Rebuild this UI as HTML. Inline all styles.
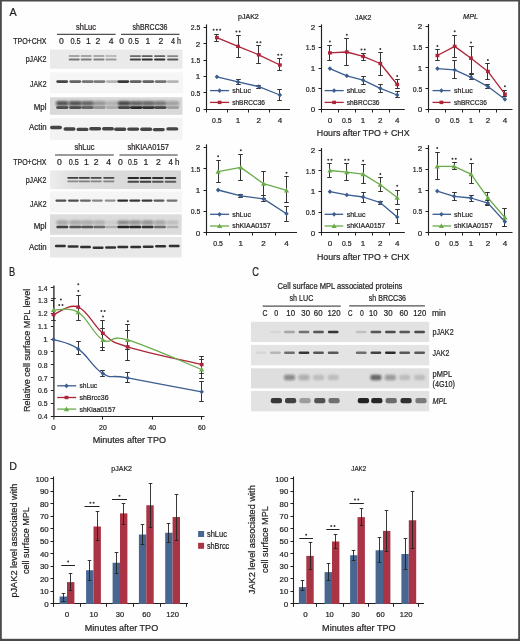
<!DOCTYPE html>
<html><head><meta charset="utf-8"><style>
html,body{margin:0;padding:0;background:#fff;}
body{width:520px;height:641px;overflow:hidden;}
svg{display:block;font-family:"Liberation Sans", sans-serif;will-change:transform;}
text{fill:#231f20;stroke:#231f20;stroke-width:0.22px;}
</style></head><body>
<svg width="520" height="641" viewBox="0 0 520 641">
<defs>
<filter id="b1" x="-30%" y="-200%" width="160%" height="500%"><feGaussianBlur stdDeviation="0.6"/></filter>
<filter id="b2" x="-30%" y="-100%" width="160%" height="300%"><feGaussianBlur stdDeviation="1.1"/></filter>
<linearGradient id="g0" x1="0" y1="0" x2="1" y2="0"><stop offset="0" stop-color="#ededed"/><stop offset="0.09" stop-color="#e6e6e6"/><stop offset="0.2" stop-color="#dfdfdf"/><stop offset="0.6" stop-color="#dadada"/><stop offset="1" stop-color="#d7d7d7"/></linearGradient>
</defs>
<rect width="520" height="641" fill="#fefefe"/>
<text x="9.60" y="15.50" font-size="11.6" textLength="7.20" lengthAdjust="spacingAndGlyphs">A</text>
<text x="86.00" y="29.50" font-size="8.6" text-anchor="middle" textLength="20.00" lengthAdjust="spacingAndGlyphs">shLuc</text>
<text x="150.00" y="29.50" font-size="8.6" text-anchor="middle" textLength="35.00" lengthAdjust="spacingAndGlyphs">shBRCC36</text>
<line x1="56.90" y1="34.30" x2="115.60" y2="34.30" stroke="#505050" stroke-width="1.3"/>
<line x1="121.00" y1="34.30" x2="179.50" y2="34.30" stroke="#505050" stroke-width="1.3"/>
<text x="13.20" y="44.10" font-size="8.3" textLength="33.30" lengthAdjust="spacingAndGlyphs">TPO+CHX</text>
<text x="61.40" y="44.10" font-size="8.6" text-anchor="middle">0</text>
<text x="75.50" y="44.10" font-size="8.6" text-anchor="middle" textLength="10.20" lengthAdjust="spacingAndGlyphs">0.5</text>
<text x="88.50" y="44.10" font-size="8.6" text-anchor="middle">1</text>
<text x="98.00" y="44.10" font-size="8.6" text-anchor="middle">2</text>
<text x="111.10" y="44.10" font-size="8.6" text-anchor="middle">4</text>
<text x="121.60" y="44.10" font-size="8.6" text-anchor="middle">0</text>
<text x="133.60" y="44.10" font-size="8.6" text-anchor="middle" textLength="10.50" lengthAdjust="spacingAndGlyphs">0.5</text>
<text x="148.00" y="44.10" font-size="8.6" text-anchor="middle">1</text>
<text x="160.80" y="44.10" font-size="8.6" text-anchor="middle">2</text>
<text x="176.00" y="44.10" font-size="8.6" text-anchor="middle" textLength="10.00" lengthAdjust="spacingAndGlyphs">4 h</text>
<text x="46.50" y="61.60" font-size="8.3" text-anchor="end" textLength="20.80" lengthAdjust="spacingAndGlyphs">pJAK2</text>
<text x="46.50" y="86.50" font-size="8.3" text-anchor="end" textLength="16.40" lengthAdjust="spacingAndGlyphs">JAK2</text>
<text x="46.50" y="110.20" font-size="8.3" text-anchor="end" textLength="12.80" lengthAdjust="spacingAndGlyphs">Mpl</text>
<text x="46.50" y="129.80" font-size="8.3" text-anchor="end" textLength="17.40" lengthAdjust="spacingAndGlyphs">Actin</text>
<rect x="50" y="49.6" width="132.5" height="19.1" fill="#eaeaea"/>
<rect x="68.70" y="55.35" width="11.00" height="1.50" rx="0.75" fill="#1a1a1a" fill-opacity="0.45" filter="url(#b1)"/>
<rect x="80.70" y="55.35" width="11.00" height="1.50" rx="0.75" fill="#1a1a1a" fill-opacity="0.45" filter="url(#b1)"/>
<rect x="93.40" y="55.35" width="11.00" height="1.50" rx="0.75" fill="#1a1a1a" fill-opacity="0.42" filter="url(#b1)"/>
<rect x="105.50" y="55.35" width="11.00" height="1.50" rx="0.75" fill="#1a1a1a" fill-opacity="0.30" filter="url(#b1)"/>
<rect x="68.70" y="58.60" width="11.00" height="1.80" rx="0.90" fill="#1a1a1a" fill-opacity="0.55" filter="url(#b1)"/>
<rect x="80.70" y="58.60" width="11.00" height="1.80" rx="0.90" fill="#1a1a1a" fill-opacity="0.52" filter="url(#b1)"/>
<rect x="93.40" y="58.60" width="11.00" height="1.80" rx="0.90" fill="#1a1a1a" fill-opacity="0.50" filter="url(#b1)"/>
<rect x="105.50" y="58.60" width="11.00" height="1.80" rx="0.90" fill="#1a1a1a" fill-opacity="0.38" filter="url(#b1)"/>
<rect x="129.80" y="55.20" width="11.20" height="1.80" rx="0.90" fill="#1a1a1a" fill-opacity="0.62" filter="url(#b1)"/>
<rect x="141.60" y="55.20" width="11.20" height="1.80" rx="0.90" fill="#1a1a1a" fill-opacity="0.68" filter="url(#b1)"/>
<rect x="154.10" y="55.20" width="11.20" height="1.80" rx="0.90" fill="#1a1a1a" fill-opacity="0.65" filter="url(#b1)"/>
<rect x="167.10" y="55.20" width="11.20" height="1.80" rx="0.90" fill="#1a1a1a" fill-opacity="0.48" filter="url(#b1)"/>
<rect x="129.80" y="58.60" width="11.20" height="2.00" rx="1.00" fill="#1a1a1a" fill-opacity="0.80" filter="url(#b1)"/>
<rect x="141.60" y="58.60" width="11.20" height="2.00" rx="1.00" fill="#1a1a1a" fill-opacity="0.90" filter="url(#b1)"/>
<rect x="154.10" y="58.60" width="11.20" height="2.00" rx="1.00" fill="#1a1a1a" fill-opacity="0.90" filter="url(#b1)"/>
<rect x="167.10" y="58.60" width="11.20" height="2.00" rx="1.00" fill="#1a1a1a" fill-opacity="0.70" filter="url(#b1)"/>
<rect x="50" y="72.4" width="133" height="20.8" fill="#f6f6f6"/>
<rect x="56.30" y="80.20" width="11.80" height="2.80" rx="1.40" fill="#1a1a1a" fill-opacity="0.80" filter="url(#b1)"/>
<rect x="69.40" y="80.20" width="11.80" height="2.80" rx="1.40" fill="#1a1a1a" fill-opacity="0.68" filter="url(#b1)"/>
<rect x="81.80" y="80.20" width="11.80" height="2.80" rx="1.40" fill="#1a1a1a" fill-opacity="0.60" filter="url(#b1)"/>
<rect x="93.60" y="80.20" width="11.80" height="2.80" rx="1.40" fill="#1a1a1a" fill-opacity="0.55" filter="url(#b1)"/>
<rect x="106.10" y="80.20" width="11.80" height="2.80" rx="1.40" fill="#1a1a1a" fill-opacity="0.30" filter="url(#b1)"/>
<rect x="117.40" y="80.20" width="11.80" height="2.80" rx="1.40" fill="#1a1a1a" fill-opacity="0.85" filter="url(#b1)"/>
<rect x="129.80" y="80.20" width="11.80" height="2.80" rx="1.40" fill="#1a1a1a" fill-opacity="0.68" filter="url(#b1)"/>
<rect x="142.40" y="80.20" width="11.80" height="2.80" rx="1.40" fill="#1a1a1a" fill-opacity="0.68" filter="url(#b1)"/>
<rect x="154.80" y="80.20" width="11.80" height="2.80" rx="1.40" fill="#1a1a1a" fill-opacity="0.60" filter="url(#b1)"/>
<rect x="166.90" y="80.20" width="11.80" height="2.80" rx="1.40" fill="#1a1a1a" fill-opacity="0.30" filter="url(#b1)"/>
<rect x="50" y="97.2" width="132.5" height="17.6" fill="#d9d9d9"/>
<rect x="56.00" y="101.10" width="12.60" height="4.60" rx="2.00" fill="#1a1a1a" fill-opacity="0.70" filter="url(#b2)"/>
<rect x="68.90" y="101.10" width="12.60" height="4.60" rx="2.00" fill="#1a1a1a" fill-opacity="0.70" filter="url(#b2)"/>
<rect x="81.10" y="101.10" width="12.60" height="4.60" rx="2.00" fill="#1a1a1a" fill-opacity="0.62" filter="url(#b2)"/>
<rect x="93.20" y="101.10" width="12.60" height="4.60" rx="2.00" fill="#1a1a1a" fill-opacity="0.35" filter="url(#b2)"/>
<rect x="105.90" y="101.10" width="12.60" height="4.60" rx="2.00" fill="#1a1a1a" fill-opacity="0.22" filter="url(#b2)"/>
<rect x="117.80" y="101.10" width="12.60" height="4.60" rx="2.00" fill="#1a1a1a" fill-opacity="0.75" filter="url(#b2)"/>
<rect x="129.90" y="101.10" width="12.60" height="4.60" rx="2.00" fill="#1a1a1a" fill-opacity="0.62" filter="url(#b2)"/>
<rect x="142.00" y="101.10" width="12.60" height="4.60" rx="2.00" fill="#1a1a1a" fill-opacity="0.60" filter="url(#b2)"/>
<rect x="154.10" y="101.10" width="12.60" height="4.60" rx="2.00" fill="#1a1a1a" fill-opacity="0.50" filter="url(#b2)"/>
<rect x="166.70" y="101.10" width="12.60" height="4.60" rx="2.00" fill="#1a1a1a" fill-opacity="0.30" filter="url(#b2)"/>
<rect x="56.10" y="106.20" width="12.40" height="2.80" rx="1.40" fill="#1a1a1a" fill-opacity="0.72" filter="url(#b1)"/>
<rect x="69.00" y="106.20" width="12.40" height="2.80" rx="1.40" fill="#1a1a1a" fill-opacity="0.72" filter="url(#b1)"/>
<rect x="81.20" y="106.20" width="12.40" height="2.80" rx="1.40" fill="#1a1a1a" fill-opacity="0.62" filter="url(#b1)"/>
<rect x="93.30" y="106.20" width="12.40" height="2.80" rx="1.40" fill="#1a1a1a" fill-opacity="0.35" filter="url(#b1)"/>
<rect x="106.00" y="106.20" width="12.40" height="2.80" rx="1.40" fill="#1a1a1a" fill-opacity="0.20" filter="url(#b1)"/>
<rect x="117.90" y="106.20" width="12.40" height="2.80" rx="1.40" fill="#1a1a1a" fill-opacity="0.75" filter="url(#b1)"/>
<rect x="130.00" y="106.20" width="12.40" height="2.80" rx="1.40" fill="#1a1a1a" fill-opacity="0.90" filter="url(#b1)"/>
<rect x="142.10" y="106.20" width="12.40" height="2.80" rx="1.40" fill="#1a1a1a" fill-opacity="0.85" filter="url(#b1)"/>
<rect x="154.20" y="106.20" width="12.40" height="2.80" rx="1.40" fill="#1a1a1a" fill-opacity="0.75" filter="url(#b1)"/>
<rect x="166.80" y="106.20" width="12.40" height="2.80" rx="1.40" fill="#1a1a1a" fill-opacity="0.30" filter="url(#b1)"/>
<rect x="50" y="118.2" width="132.6" height="21.6" fill="#f3f3f3"/>
<rect x="50.00" y="125.80" width="12.00" height="3.40" rx="1.70" fill="#1a1a1a" fill-opacity="0.80" filter="url(#b1)"/>
<rect x="63.50" y="127.30" width="12.00" height="3.40" rx="1.70" fill="#1a1a1a" fill-opacity="0.80" filter="url(#b1)"/>
<rect x="76.50" y="127.70" width="12.00" height="3.40" rx="1.70" fill="#1a1a1a" fill-opacity="0.80" filter="url(#b1)"/>
<rect x="89.20" y="127.10" width="12.00" height="3.40" rx="1.70" fill="#1a1a1a" fill-opacity="0.80" filter="url(#b1)"/>
<rect x="102.00" y="127.10" width="12.00" height="3.40" rx="1.70" fill="#1a1a1a" fill-opacity="0.80" filter="url(#b1)"/>
<rect x="114.20" y="127.50" width="12.00" height="3.40" rx="1.70" fill="#1a1a1a" fill-opacity="0.80" filter="url(#b1)"/>
<rect x="127.20" y="127.40" width="12.00" height="3.40" rx="1.70" fill="#1a1a1a" fill-opacity="0.80" filter="url(#b1)"/>
<rect x="140.20" y="127.60" width="12.00" height="3.40" rx="1.70" fill="#1a1a1a" fill-opacity="0.80" filter="url(#b1)"/>
<rect x="152.80" y="127.90" width="12.00" height="3.40" rx="1.70" fill="#1a1a1a" fill-opacity="0.80" filter="url(#b1)"/>
<rect x="166.30" y="127.20" width="12.00" height="3.40" rx="1.70" fill="#1a1a1a" fill-opacity="0.80" filter="url(#b1)"/>
<text x="84.40" y="150.10" font-size="8.6" text-anchor="middle" textLength="20.00" lengthAdjust="spacingAndGlyphs">shLuc</text>
<text x="148.20" y="150.10" font-size="8.6" text-anchor="middle" textLength="41.50" lengthAdjust="spacingAndGlyphs">shKIAA0157</text>
<line x1="55.00" y1="155.00" x2="113.80" y2="155.00" stroke="#7a7a7a" stroke-width="1.6"/>
<line x1="119.50" y1="155.00" x2="177.70" y2="155.00" stroke="#7a7a7a" stroke-width="1.6"/>
<text x="13.20" y="164.70" font-size="8.3" textLength="33.30" lengthAdjust="spacingAndGlyphs">TPO+CHX</text>
<text x="59.50" y="164.70" font-size="8.6" text-anchor="middle">0</text>
<text x="73.80" y="164.70" font-size="8.6" text-anchor="middle" textLength="10.00" lengthAdjust="spacingAndGlyphs">0.5</text>
<text x="86.40" y="164.70" font-size="8.6" text-anchor="middle">1</text>
<text x="96.20" y="164.70" font-size="8.6" text-anchor="middle">2</text>
<text x="108.70" y="164.70" font-size="8.6" text-anchor="middle">4</text>
<text x="120.40" y="164.70" font-size="8.6" text-anchor="middle">0</text>
<text x="132.90" y="164.70" font-size="8.6" text-anchor="middle" textLength="9.60" lengthAdjust="spacingAndGlyphs">0.5</text>
<text x="146.00" y="164.70" font-size="8.6" text-anchor="middle">1</text>
<text x="158.50" y="164.70" font-size="8.6" text-anchor="middle">2</text>
<text x="174.00" y="164.70" font-size="8.6" text-anchor="middle" textLength="10.90" lengthAdjust="spacingAndGlyphs">4 h</text>
<text x="46.50" y="182.50" font-size="8.3" text-anchor="end" textLength="20.80" lengthAdjust="spacingAndGlyphs">pJAK2</text>
<text x="46.50" y="206.80" font-size="8.3" text-anchor="end" textLength="16.40" lengthAdjust="spacingAndGlyphs">JAK2</text>
<text x="46.50" y="229.40" font-size="8.3" text-anchor="end" textLength="12.80" lengthAdjust="spacingAndGlyphs">Mpl</text>
<text x="46.50" y="250.00" font-size="8.3" text-anchor="end" textLength="17.40" lengthAdjust="spacingAndGlyphs">Actin</text>
<rect x="50" y="170.4" width="131" height="18.7" fill="url(#g0)"/>
<rect x="67.30" y="176.90" width="11.20" height="1.80" rx="0.90" fill="#1a1a1a" fill-opacity="0.80" filter="url(#b1)"/>
<rect x="78.80" y="176.90" width="11.20" height="1.80" rx="0.90" fill="#1a1a1a" fill-opacity="0.82" filter="url(#b1)"/>
<rect x="90.50" y="176.90" width="11.20" height="1.80" rx="0.90" fill="#1a1a1a" fill-opacity="0.75" filter="url(#b1)"/>
<rect x="103.20" y="176.90" width="11.20" height="1.80" rx="0.90" fill="#1a1a1a" fill-opacity="0.75" filter="url(#b1)"/>
<rect x="67.30" y="180.45" width="11.20" height="1.70" rx="0.85" fill="#1a1a1a" fill-opacity="0.42" filter="url(#b1)"/>
<rect x="78.80" y="180.45" width="11.20" height="1.70" rx="0.85" fill="#1a1a1a" fill-opacity="0.48" filter="url(#b1)"/>
<rect x="90.50" y="180.45" width="11.20" height="1.70" rx="0.85" fill="#1a1a1a" fill-opacity="0.45" filter="url(#b1)"/>
<rect x="103.20" y="180.45" width="11.20" height="1.70" rx="0.85" fill="#1a1a1a" fill-opacity="0.45" filter="url(#b1)"/>
<rect x="127.50" y="176.95" width="11.60" height="2.10" rx="1.05" fill="#1a1a1a" fill-opacity="0.92" filter="url(#b1)"/>
<rect x="139.70" y="176.95" width="11.60" height="2.10" rx="1.05" fill="#1a1a1a" fill-opacity="0.95" filter="url(#b1)"/>
<rect x="152.00" y="176.95" width="11.60" height="2.10" rx="1.05" fill="#1a1a1a" fill-opacity="0.88" filter="url(#b1)"/>
<rect x="164.70" y="176.95" width="11.60" height="2.10" rx="1.05" fill="#1a1a1a" fill-opacity="0.85" filter="url(#b1)"/>
<rect x="127.50" y="180.70" width="11.60" height="2.00" rx="1.00" fill="#1a1a1a" fill-opacity="0.75" filter="url(#b1)"/>
<rect x="139.70" y="180.70" width="11.60" height="2.00" rx="1.00" fill="#1a1a1a" fill-opacity="0.80" filter="url(#b1)"/>
<rect x="152.00" y="180.70" width="11.60" height="2.00" rx="1.00" fill="#1a1a1a" fill-opacity="0.70" filter="url(#b1)"/>
<rect x="164.70" y="180.70" width="11.60" height="2.00" rx="1.00" fill="#1a1a1a" fill-opacity="0.65" filter="url(#b1)"/>
<rect x="50" y="191.4" width="132" height="21" fill="#f5f5f5"/>
<rect x="55.40" y="199.50" width="11.00" height="2.20" rx="1.10" fill="#1a1a1a" fill-opacity="0.75" filter="url(#b1)"/>
<rect x="67.90" y="199.50" width="11.00" height="2.20" rx="1.10" fill="#1a1a1a" fill-opacity="0.75" filter="url(#b1)"/>
<rect x="79.90" y="199.50" width="11.00" height="2.20" rx="1.10" fill="#1a1a1a" fill-opacity="0.65" filter="url(#b1)"/>
<rect x="91.80" y="199.50" width="11.00" height="2.20" rx="1.10" fill="#1a1a1a" fill-opacity="0.50" filter="url(#b1)"/>
<rect x="104.70" y="199.50" width="11.00" height="2.20" rx="1.10" fill="#1a1a1a" fill-opacity="0.45" filter="url(#b1)"/>
<rect x="117.20" y="199.50" width="11.00" height="2.20" rx="1.10" fill="#1a1a1a" fill-opacity="0.90" filter="url(#b1)"/>
<rect x="129.30" y="199.50" width="11.00" height="2.20" rx="1.10" fill="#1a1a1a" fill-opacity="0.85" filter="url(#b1)"/>
<rect x="141.50" y="199.50" width="11.00" height="2.20" rx="1.10" fill="#1a1a1a" fill-opacity="0.85" filter="url(#b1)"/>
<rect x="153.50" y="199.50" width="11.00" height="2.20" rx="1.10" fill="#1a1a1a" fill-opacity="0.70" filter="url(#b1)"/>
<rect x="166.50" y="199.50" width="11.00" height="2.20" rx="1.10" fill="#1a1a1a" fill-opacity="0.60" filter="url(#b1)"/>
<rect x="50" y="214.3" width="131.7" height="20.5" fill="#dcdcdc"/>
<rect x="56.30" y="220.40" width="12.00" height="4.20" rx="2.00" fill="#1a1a1a" fill-opacity="0.30" filter="url(#b2)"/>
<rect x="69.30" y="220.40" width="12.00" height="4.20" rx="2.00" fill="#1a1a1a" fill-opacity="0.30" filter="url(#b2)"/>
<rect x="81.20" y="220.40" width="12.00" height="4.20" rx="2.00" fill="#1a1a1a" fill-opacity="0.28" filter="url(#b2)"/>
<rect x="93.30" y="220.40" width="12.00" height="4.20" rx="2.00" fill="#1a1a1a" fill-opacity="0.25" filter="url(#b2)"/>
<rect x="105.30" y="220.40" width="12.00" height="4.20" rx="2.00" fill="#1a1a1a" fill-opacity="0.08" filter="url(#b2)"/>
<rect x="117.30" y="220.40" width="12.00" height="4.20" rx="2.00" fill="#1a1a1a" fill-opacity="0.45" filter="url(#b2)"/>
<rect x="129.20" y="220.40" width="12.00" height="4.20" rx="2.00" fill="#1a1a1a" fill-opacity="0.40" filter="url(#b2)"/>
<rect x="141.60" y="220.40" width="12.00" height="4.20" rx="2.00" fill="#1a1a1a" fill-opacity="0.40" filter="url(#b2)"/>
<rect x="154.00" y="220.40" width="12.00" height="4.20" rx="2.00" fill="#1a1a1a" fill-opacity="0.30" filter="url(#b2)"/>
<rect x="166.50" y="220.40" width="12.00" height="4.20" rx="2.00" fill="#1a1a1a" fill-opacity="0.15" filter="url(#b2)"/>
<rect x="56.30" y="225.80" width="12.00" height="2.40" rx="1.20" fill="#1a1a1a" fill-opacity="0.80" filter="url(#b1)"/>
<rect x="69.30" y="225.80" width="12.00" height="2.40" rx="1.20" fill="#1a1a1a" fill-opacity="0.70" filter="url(#b1)"/>
<rect x="81.20" y="225.80" width="12.00" height="2.40" rx="1.20" fill="#1a1a1a" fill-opacity="0.70" filter="url(#b1)"/>
<rect x="93.30" y="225.80" width="12.00" height="2.40" rx="1.20" fill="#1a1a1a" fill-opacity="0.60" filter="url(#b1)"/>
<rect x="105.30" y="225.80" width="12.00" height="2.40" rx="1.20" fill="#1a1a1a" fill-opacity="0.20" filter="url(#b1)"/>
<rect x="117.30" y="225.80" width="12.00" height="2.40" rx="1.20" fill="#1a1a1a" fill-opacity="0.95" filter="url(#b1)"/>
<rect x="129.20" y="225.80" width="12.00" height="2.40" rx="1.20" fill="#1a1a1a" fill-opacity="0.90" filter="url(#b1)"/>
<rect x="141.60" y="225.80" width="12.00" height="2.40" rx="1.20" fill="#1a1a1a" fill-opacity="0.85" filter="url(#b1)"/>
<rect x="154.00" y="225.80" width="12.00" height="2.40" rx="1.20" fill="#1a1a1a" fill-opacity="0.55" filter="url(#b1)"/>
<rect x="166.50" y="225.80" width="12.00" height="2.40" rx="1.20" fill="#1a1a1a" fill-opacity="0.20" filter="url(#b1)"/>
<rect x="50" y="237.0" width="131.7" height="20.4" fill="#e8e8e8"/>
<rect x="54.90" y="244.75" width="11.00" height="2.50" rx="1.25" fill="#1a1a1a" fill-opacity="0.88" filter="url(#b1)"/>
<rect x="67.60" y="245.15" width="11.00" height="2.50" rx="1.25" fill="#1a1a1a" fill-opacity="0.88" filter="url(#b1)"/>
<rect x="80.00" y="245.75" width="11.00" height="2.50" rx="1.25" fill="#1a1a1a" fill-opacity="0.88" filter="url(#b1)"/>
<rect x="92.60" y="246.55" width="11.00" height="2.50" rx="1.25" fill="#1a1a1a" fill-opacity="0.88" filter="url(#b1)"/>
<rect x="105.10" y="246.25" width="11.00" height="2.50" rx="1.25" fill="#1a1a1a" fill-opacity="0.88" filter="url(#b1)"/>
<rect x="117.30" y="245.65" width="11.00" height="2.50" rx="1.25" fill="#1a1a1a" fill-opacity="0.88" filter="url(#b1)"/>
<rect x="130.20" y="245.65" width="11.00" height="2.50" rx="1.25" fill="#1a1a1a" fill-opacity="0.88" filter="url(#b1)"/>
<rect x="142.70" y="245.45" width="11.00" height="2.50" rx="1.25" fill="#1a1a1a" fill-opacity="0.88" filter="url(#b1)"/>
<rect x="155.10" y="245.05" width="11.00" height="2.50" rx="1.25" fill="#1a1a1a" fill-opacity="0.88" filter="url(#b1)"/>
<rect x="168.70" y="244.75" width="11.00" height="2.50" rx="1.25" fill="#1a1a1a" fill-opacity="0.88" filter="url(#b1)"/>
<line x1="206.50" y1="24.40" x2="206.50" y2="110.10" stroke="#231f20" stroke-width="1.15"/>
<line x1="205.90" y1="109.50" x2="290.00" y2="109.50" stroke="#231f20" stroke-width="1.15"/>
<line x1="203.50" y1="109.50" x2="206.50" y2="109.50" stroke="#231f20" stroke-width="1.0"/>
<text x="200.30" y="112.30" font-size="8" text-anchor="end">0</text>
<line x1="203.50" y1="92.50" x2="206.50" y2="92.50" stroke="#231f20" stroke-width="1.0"/>
<text x="200.30" y="95.88" font-size="8" text-anchor="end" textLength="9.56" lengthAdjust="spacingAndGlyphs">0.5</text>
<line x1="203.50" y1="76.50" x2="206.50" y2="76.50" stroke="#231f20" stroke-width="1.0"/>
<text x="200.30" y="79.46" font-size="8" text-anchor="end">1</text>
<line x1="203.50" y1="60.50" x2="206.50" y2="60.50" stroke="#231f20" stroke-width="1.0"/>
<text x="200.30" y="63.04" font-size="8" text-anchor="end" textLength="9.56" lengthAdjust="spacingAndGlyphs">1.5</text>
<line x1="203.50" y1="43.50" x2="206.50" y2="43.50" stroke="#231f20" stroke-width="1.0"/>
<text x="200.30" y="46.62" font-size="8" text-anchor="end">2</text>
<line x1="203.50" y1="27.50" x2="206.50" y2="27.50" stroke="#231f20" stroke-width="1.0"/>
<text x="200.30" y="30.20" font-size="8" text-anchor="end" textLength="9.56" lengthAdjust="spacingAndGlyphs">2.5</text>
<line x1="206.50" y1="109.50" x2="206.50" y2="112.50" stroke="#231f20" stroke-width="1.0"/>
<line x1="227.50" y1="109.50" x2="227.50" y2="112.50" stroke="#231f20" stroke-width="1.0"/>
<line x1="248.50" y1="109.50" x2="248.50" y2="112.50" stroke="#231f20" stroke-width="1.0"/>
<line x1="269.50" y1="109.50" x2="269.50" y2="112.50" stroke="#231f20" stroke-width="1.0"/>
<text x="216.90" y="122.60" font-size="8" text-anchor="middle" textLength="9.56" lengthAdjust="spacingAndGlyphs">0.5</text>
<text x="238.00" y="122.60" font-size="8" text-anchor="middle">1</text>
<text x="258.80" y="122.60" font-size="8" text-anchor="middle">2</text>
<text x="279.90" y="122.60" font-size="8" text-anchor="middle">4</text>
<line x1="238.50" y1="79.80" x2="238.50" y2="84.00" stroke="#333333" stroke-width="1.0"/>
<line x1="236.20" y1="79.50" x2="240.80" y2="79.50" stroke="#333333" stroke-width="1.0"/>
<line x1="236.20" y1="84.50" x2="240.80" y2="84.50" stroke="#333333" stroke-width="1.0"/>
<line x1="258.50" y1="85.10" x2="258.50" y2="88.30" stroke="#333333" stroke-width="1.0"/>
<line x1="256.20" y1="85.50" x2="260.80" y2="85.50" stroke="#333333" stroke-width="1.0"/>
<line x1="256.20" y1="88.50" x2="260.80" y2="88.50" stroke="#333333" stroke-width="1.0"/>
<line x1="279.50" y1="89.30" x2="279.50" y2="100.50" stroke="#333333" stroke-width="1.0"/>
<line x1="277.20" y1="89.50" x2="281.80" y2="89.50" stroke="#333333" stroke-width="1.0"/>
<line x1="277.20" y1="100.50" x2="281.80" y2="100.50" stroke="#333333" stroke-width="1.0"/>
<line x1="216.50" y1="34.00" x2="216.50" y2="41.50" stroke="#333333" stroke-width="1.0"/>
<line x1="214.20" y1="34.50" x2="218.80" y2="34.50" stroke="#333333" stroke-width="1.0"/>
<line x1="214.20" y1="41.50" x2="218.80" y2="41.50" stroke="#333333" stroke-width="1.0"/>
<line x1="238.50" y1="35.00" x2="238.50" y2="57.60" stroke="#333333" stroke-width="1.0"/>
<line x1="236.20" y1="35.50" x2="240.80" y2="35.50" stroke="#333333" stroke-width="1.0"/>
<line x1="236.20" y1="57.50" x2="240.80" y2="57.50" stroke="#333333" stroke-width="1.0"/>
<line x1="258.50" y1="45.50" x2="258.50" y2="63.50" stroke="#333333" stroke-width="1.0"/>
<line x1="256.20" y1="45.50" x2="260.80" y2="45.50" stroke="#333333" stroke-width="1.0"/>
<line x1="256.20" y1="63.50" x2="260.80" y2="63.50" stroke="#333333" stroke-width="1.0"/>
<line x1="279.50" y1="58.70" x2="279.50" y2="70.30" stroke="#333333" stroke-width="1.0"/>
<line x1="277.20" y1="58.50" x2="281.80" y2="58.50" stroke="#333333" stroke-width="1.0"/>
<line x1="277.20" y1="70.50" x2="281.80" y2="70.50" stroke="#333333" stroke-width="1.0"/>
<polyline points="216.90,76.80 238.00,81.90 258.80,86.60 279.90,95.00" fill="none" stroke="#3b5d8f" stroke-width="1.3" stroke-linejoin="round"/>
<path d="M216.90 74.40L219.10 76.80L216.90 79.20L214.70 76.80Z" fill="#3b5d8f"/>
<path d="M238.00 79.50L240.20 81.90L238.00 84.30L235.80 81.90Z" fill="#3b5d8f"/>
<path d="M258.80 84.20L261.00 86.60L258.80 89.00L256.60 86.60Z" fill="#3b5d8f"/>
<path d="M279.90 92.60L282.10 95.00L279.90 97.40L277.70 95.00Z" fill="#3b5d8f"/>
<polyline points="216.90,37.60 238.00,46.40 258.80,54.80 279.90,65.00" fill="none" stroke="#ad2538" stroke-width="1.3" stroke-linejoin="round"/>
<rect x="215.00" y="35.90" width="3.8" height="3.4" fill="#ad2538"/>
<rect x="236.10" y="44.70" width="3.8" height="3.4" fill="#ad2538"/>
<rect x="256.90" y="53.10" width="3.8" height="3.4" fill="#ad2538"/>
<rect x="278.00" y="63.30" width="3.8" height="3.4" fill="#ad2538"/>
<circle cx="213.65" cy="29.80" r="1.0" fill="#383838"/>
<circle cx="216.90" cy="29.80" r="1.0" fill="#383838"/>
<circle cx="220.15" cy="29.80" r="1.0" fill="#383838"/>
<circle cx="236.38" cy="31.40" r="1.0" fill="#383838"/>
<circle cx="239.62" cy="31.40" r="1.0" fill="#383838"/>
<circle cx="257.18" cy="42.30" r="1.0" fill="#383838"/>
<circle cx="260.43" cy="42.30" r="1.0" fill="#383838"/>
<circle cx="278.27" cy="54.80" r="1.0" fill="#383838"/>
<circle cx="281.52" cy="54.80" r="1.0" fill="#383838"/>
<line x1="210.10" y1="90.60" x2="229.10" y2="90.60" stroke="#3b5d8f" stroke-width="1.3"/>
<path d="M219.60 88.20L221.80 90.60L219.60 93.00L217.40 90.60Z" fill="#3b5d8f"/>
<text x="232.20" y="93.00" font-size="7.2" textLength="18.70" lengthAdjust="spacingAndGlyphs">shLuc</text>
<line x1="210.10" y1="102.40" x2="229.10" y2="102.40" stroke="#ad2538" stroke-width="1.3"/>
<rect x="217.70" y="100.70" width="3.8" height="3.4" fill="#ad2538"/>
<text x="232.20" y="104.80" font-size="7.2" textLength="32.80" lengthAdjust="spacingAndGlyphs">shBRCC36</text>
<text x="248.40" y="19.40" font-size="7.6" text-anchor="middle" textLength="20.80" lengthAdjust="spacingAndGlyphs">pJAK2</text>
<line x1="321.50" y1="24.40" x2="321.50" y2="110.10" stroke="#231f20" stroke-width="1.15"/>
<line x1="320.90" y1="109.50" x2="404.80" y2="109.50" stroke="#231f20" stroke-width="1.15"/>
<line x1="318.50" y1="109.50" x2="321.50" y2="109.50" stroke="#231f20" stroke-width="1.0"/>
<text x="315.30" y="112.30" font-size="8" text-anchor="end">0</text>
<line x1="318.50" y1="88.50" x2="321.50" y2="88.50" stroke="#231f20" stroke-width="1.0"/>
<text x="315.30" y="91.68" font-size="8" text-anchor="end" textLength="9.56" lengthAdjust="spacingAndGlyphs">0.5</text>
<line x1="318.50" y1="68.50" x2="321.50" y2="68.50" stroke="#231f20" stroke-width="1.0"/>
<text x="315.30" y="71.05" font-size="8" text-anchor="end">1</text>
<line x1="318.50" y1="47.50" x2="321.50" y2="47.50" stroke="#231f20" stroke-width="1.0"/>
<text x="315.30" y="50.43" font-size="8" text-anchor="end" textLength="9.56" lengthAdjust="spacingAndGlyphs">1.5</text>
<line x1="318.50" y1="26.50" x2="321.50" y2="26.50" stroke="#231f20" stroke-width="1.0"/>
<text x="315.30" y="29.80" font-size="8" text-anchor="end">2</text>
<line x1="321.50" y1="109.50" x2="321.50" y2="112.50" stroke="#231f20" stroke-width="1.0"/>
<line x1="338.50" y1="109.50" x2="338.50" y2="112.50" stroke="#231f20" stroke-width="1.0"/>
<line x1="355.50" y1="109.50" x2="355.50" y2="112.50" stroke="#231f20" stroke-width="1.0"/>
<line x1="372.50" y1="109.50" x2="372.50" y2="112.50" stroke="#231f20" stroke-width="1.0"/>
<line x1="389.50" y1="109.50" x2="389.50" y2="112.50" stroke="#231f20" stroke-width="1.0"/>
<text x="329.90" y="122.60" font-size="8" text-anchor="middle">0</text>
<text x="346.80" y="122.60" font-size="8" text-anchor="middle" textLength="9.56" lengthAdjust="spacingAndGlyphs">0.5</text>
<text x="363.10" y="122.60" font-size="8" text-anchor="middle">1</text>
<text x="380.30" y="122.60" font-size="8" text-anchor="middle">2</text>
<text x="397.20" y="122.60" font-size="8" text-anchor="middle">4</text>
<line x1="363.50" y1="76.60" x2="363.50" y2="84.00" stroke="#333333" stroke-width="1.0"/>
<line x1="361.20" y1="76.50" x2="365.80" y2="76.50" stroke="#333333" stroke-width="1.0"/>
<line x1="361.20" y1="84.50" x2="365.80" y2="84.50" stroke="#333333" stroke-width="1.0"/>
<line x1="380.50" y1="84.50" x2="380.50" y2="92.10" stroke="#333333" stroke-width="1.0"/>
<line x1="378.20" y1="84.50" x2="382.80" y2="84.50" stroke="#333333" stroke-width="1.0"/>
<line x1="378.20" y1="92.50" x2="382.80" y2="92.50" stroke="#333333" stroke-width="1.0"/>
<line x1="397.50" y1="91.40" x2="397.50" y2="97.80" stroke="#333333" stroke-width="1.0"/>
<line x1="395.20" y1="91.50" x2="399.80" y2="91.50" stroke="#333333" stroke-width="1.0"/>
<line x1="395.20" y1="97.50" x2="399.80" y2="97.50" stroke="#333333" stroke-width="1.0"/>
<line x1="329.50" y1="45.00" x2="329.50" y2="60.30" stroke="#333333" stroke-width="1.0"/>
<line x1="327.20" y1="45.50" x2="331.80" y2="45.50" stroke="#333333" stroke-width="1.0"/>
<line x1="327.20" y1="60.50" x2="331.80" y2="60.50" stroke="#333333" stroke-width="1.0"/>
<line x1="346.50" y1="38.40" x2="346.50" y2="65.40" stroke="#333333" stroke-width="1.0"/>
<line x1="344.20" y1="38.50" x2="348.80" y2="38.50" stroke="#333333" stroke-width="1.0"/>
<line x1="344.20" y1="65.50" x2="348.80" y2="65.50" stroke="#333333" stroke-width="1.0"/>
<line x1="363.50" y1="53.60" x2="363.50" y2="60.40" stroke="#333333" stroke-width="1.0"/>
<line x1="361.20" y1="53.50" x2="365.80" y2="53.50" stroke="#333333" stroke-width="1.0"/>
<line x1="361.20" y1="60.50" x2="365.80" y2="60.50" stroke="#333333" stroke-width="1.0"/>
<line x1="380.50" y1="52.90" x2="380.50" y2="75.60" stroke="#333333" stroke-width="1.0"/>
<line x1="378.20" y1="52.50" x2="382.80" y2="52.50" stroke="#333333" stroke-width="1.0"/>
<line x1="378.20" y1="75.50" x2="382.80" y2="75.50" stroke="#333333" stroke-width="1.0"/>
<line x1="397.50" y1="79.80" x2="397.50" y2="88.90" stroke="#333333" stroke-width="1.0"/>
<line x1="395.20" y1="79.50" x2="399.80" y2="79.50" stroke="#333333" stroke-width="1.0"/>
<line x1="395.20" y1="88.50" x2="399.80" y2="88.50" stroke="#333333" stroke-width="1.0"/>
<polyline points="329.90,68.60 346.80,75.80 363.10,80.20 380.30,88.30 397.20,95.00" fill="none" stroke="#3b5d8f" stroke-width="1.3" stroke-linejoin="round"/>
<path d="M329.90 66.20L332.10 68.60L329.90 71.00L327.70 68.60Z" fill="#3b5d8f"/>
<path d="M346.80 73.40L349.00 75.80L346.80 78.20L344.60 75.80Z" fill="#3b5d8f"/>
<path d="M363.10 77.80L365.30 80.20L363.10 82.60L360.90 80.20Z" fill="#3b5d8f"/>
<path d="M380.30 85.90L382.50 88.30L380.30 90.70L378.10 88.30Z" fill="#3b5d8f"/>
<path d="M397.20 92.60L399.40 95.00L397.20 97.40L395.00 95.00Z" fill="#3b5d8f"/>
<polyline points="329.90,52.90 346.80,52.00 363.10,56.40 380.30,63.50 397.20,84.50" fill="none" stroke="#ad2538" stroke-width="1.3" stroke-linejoin="round"/>
<rect x="328.00" y="51.20" width="3.8" height="3.4" fill="#ad2538"/>
<rect x="344.90" y="50.30" width="3.8" height="3.4" fill="#ad2538"/>
<rect x="361.20" y="54.70" width="3.8" height="3.4" fill="#ad2538"/>
<rect x="378.40" y="61.80" width="3.8" height="3.4" fill="#ad2538"/>
<rect x="395.30" y="82.80" width="3.8" height="3.4" fill="#ad2538"/>
<circle cx="329.90" cy="41.50" r="1.0" fill="#383838"/>
<circle cx="346.80" cy="34.80" r="1.0" fill="#383838"/>
<circle cx="361.48" cy="49.50" r="1.0" fill="#383838"/>
<circle cx="364.73" cy="49.50" r="1.0" fill="#383838"/>
<circle cx="380.30" cy="49.10" r="1.0" fill="#383838"/>
<circle cx="397.20" cy="76.00" r="1.0" fill="#383838"/>
<line x1="324.60" y1="90.60" x2="343.70" y2="90.60" stroke="#3b5d8f" stroke-width="1.3"/>
<path d="M334.10 88.20L336.30 90.60L334.10 93.00L331.90 90.60Z" fill="#3b5d8f"/>
<text x="346.70" y="93.00" font-size="7.2" textLength="18.70" lengthAdjust="spacingAndGlyphs">shLuc</text>
<line x1="324.60" y1="102.40" x2="343.70" y2="102.40" stroke="#ad2538" stroke-width="1.3"/>
<rect x="332.20" y="100.70" width="3.8" height="3.4" fill="#ad2538"/>
<text x="346.70" y="104.80" font-size="7.2" textLength="32.80" lengthAdjust="spacingAndGlyphs">shBRCC36</text>
<text x="363.10" y="19.50" font-size="7.6" text-anchor="middle" textLength="16.20" lengthAdjust="spacingAndGlyphs">JAK2</text>
<line x1="428.50" y1="24.00" x2="428.50" y2="110.10" stroke="#231f20" stroke-width="1.15"/>
<line x1="427.90" y1="109.50" x2="512.50" y2="109.50" stroke="#231f20" stroke-width="1.15"/>
<line x1="425.50" y1="109.50" x2="428.50" y2="109.50" stroke="#231f20" stroke-width="1.0"/>
<text x="422.30" y="112.30" font-size="8" text-anchor="end">0</text>
<line x1="425.50" y1="88.50" x2="428.50" y2="88.50" stroke="#231f20" stroke-width="1.0"/>
<text x="422.30" y="91.58" font-size="8" text-anchor="end" textLength="9.56" lengthAdjust="spacingAndGlyphs">0.5</text>
<line x1="425.50" y1="67.50" x2="428.50" y2="67.50" stroke="#231f20" stroke-width="1.0"/>
<text x="422.30" y="70.85" font-size="8" text-anchor="end">1</text>
<line x1="425.50" y1="47.50" x2="428.50" y2="47.50" stroke="#231f20" stroke-width="1.0"/>
<text x="422.30" y="50.12" font-size="8" text-anchor="end" textLength="9.56" lengthAdjust="spacingAndGlyphs">1.5</text>
<line x1="425.50" y1="26.50" x2="428.50" y2="26.50" stroke="#231f20" stroke-width="1.0"/>
<text x="422.30" y="29.40" font-size="8" text-anchor="end">2</text>
<line x1="428.50" y1="109.50" x2="428.50" y2="112.50" stroke="#231f20" stroke-width="1.0"/>
<line x1="445.50" y1="109.50" x2="445.50" y2="112.50" stroke="#231f20" stroke-width="1.0"/>
<line x1="462.50" y1="109.50" x2="462.50" y2="112.50" stroke="#231f20" stroke-width="1.0"/>
<line x1="479.50" y1="109.50" x2="479.50" y2="112.50" stroke="#231f20" stroke-width="1.0"/>
<line x1="496.50" y1="109.50" x2="496.50" y2="112.50" stroke="#231f20" stroke-width="1.0"/>
<text x="437.40" y="122.60" font-size="8" text-anchor="middle">0</text>
<text x="454.70" y="122.60" font-size="8" text-anchor="middle" textLength="9.56" lengthAdjust="spacingAndGlyphs">0.5</text>
<text x="471.00" y="122.60" font-size="8" text-anchor="middle">1</text>
<text x="487.90" y="122.60" font-size="8" text-anchor="middle">2</text>
<text x="504.90" y="122.60" font-size="8" text-anchor="middle">4</text>
<line x1="454.50" y1="60.80" x2="454.50" y2="78.30" stroke="#333333" stroke-width="1.0"/>
<line x1="452.20" y1="60.50" x2="456.80" y2="60.50" stroke="#333333" stroke-width="1.0"/>
<line x1="452.20" y1="78.50" x2="456.80" y2="78.50" stroke="#333333" stroke-width="1.0"/>
<line x1="471.50" y1="74.50" x2="471.50" y2="79.80" stroke="#333333" stroke-width="1.0"/>
<line x1="469.20" y1="74.50" x2="473.80" y2="74.50" stroke="#333333" stroke-width="1.0"/>
<line x1="469.20" y1="79.50" x2="473.80" y2="79.50" stroke="#333333" stroke-width="1.0"/>
<line x1="487.50" y1="84.00" x2="487.50" y2="88.70" stroke="#333333" stroke-width="1.0"/>
<line x1="485.20" y1="84.50" x2="489.80" y2="84.50" stroke="#333333" stroke-width="1.0"/>
<line x1="485.20" y1="88.50" x2="489.80" y2="88.50" stroke="#333333" stroke-width="1.0"/>
<line x1="437.50" y1="49.10" x2="437.50" y2="60.80" stroke="#333333" stroke-width="1.0"/>
<line x1="435.20" y1="49.50" x2="439.80" y2="49.50" stroke="#333333" stroke-width="1.0"/>
<line x1="435.20" y1="60.50" x2="439.80" y2="60.50" stroke="#333333" stroke-width="1.0"/>
<line x1="454.50" y1="35.40" x2="454.50" y2="57.60" stroke="#333333" stroke-width="1.0"/>
<line x1="452.20" y1="35.50" x2="456.80" y2="35.50" stroke="#333333" stroke-width="1.0"/>
<line x1="452.20" y1="57.50" x2="456.80" y2="57.50" stroke="#333333" stroke-width="1.0"/>
<line x1="471.50" y1="46.00" x2="471.50" y2="73.00" stroke="#333333" stroke-width="1.0"/>
<line x1="469.20" y1="46.50" x2="473.80" y2="46.50" stroke="#333333" stroke-width="1.0"/>
<line x1="469.20" y1="73.50" x2="473.80" y2="73.50" stroke="#333333" stroke-width="1.0"/>
<line x1="487.50" y1="63.50" x2="487.50" y2="79.80" stroke="#333333" stroke-width="1.0"/>
<line x1="485.20" y1="63.50" x2="489.80" y2="63.50" stroke="#333333" stroke-width="1.0"/>
<line x1="485.20" y1="79.50" x2="489.80" y2="79.50" stroke="#333333" stroke-width="1.0"/>
<line x1="504.50" y1="90.00" x2="504.50" y2="96.70" stroke="#333333" stroke-width="1.0"/>
<line x1="502.20" y1="90.50" x2="506.80" y2="90.50" stroke="#333333" stroke-width="1.0"/>
<line x1="502.20" y1="96.50" x2="506.80" y2="96.50" stroke="#333333" stroke-width="1.0"/>
<polyline points="437.40,68.60 454.70,69.90 471.00,77.30 487.90,86.60 504.90,99.30" fill="none" stroke="#3b5d8f" stroke-width="1.3" stroke-linejoin="round"/>
<path d="M437.40 66.20L439.60 68.60L437.40 71.00L435.20 68.60Z" fill="#3b5d8f"/>
<path d="M454.70 67.50L456.90 69.90L454.70 72.30L452.50 69.90Z" fill="#3b5d8f"/>
<path d="M471.00 74.90L473.20 77.30L471.00 79.70L468.80 77.30Z" fill="#3b5d8f"/>
<path d="M487.90 84.20L490.10 86.60L487.90 89.00L485.70 86.60Z" fill="#3b5d8f"/>
<path d="M504.90 96.90L507.10 99.30L504.90 101.70L502.70 99.30Z" fill="#3b5d8f"/>
<polyline points="437.40,55.50 454.70,46.40 471.00,58.20 487.90,71.40 504.90,94.20" fill="none" stroke="#ad2538" stroke-width="1.3" stroke-linejoin="round"/>
<rect x="435.50" y="53.80" width="3.8" height="3.4" fill="#ad2538"/>
<rect x="452.80" y="44.70" width="3.8" height="3.4" fill="#ad2538"/>
<rect x="469.10" y="56.50" width="3.8" height="3.4" fill="#ad2538"/>
<rect x="486.00" y="69.70" width="3.8" height="3.4" fill="#ad2538"/>
<rect x="503.00" y="92.50" width="3.8" height="3.4" fill="#ad2538"/>
<circle cx="437.40" cy="46.00" r="1.0" fill="#383838"/>
<circle cx="454.70" cy="31.20" r="1.0" fill="#383838"/>
<circle cx="471.00" cy="42.40" r="1.0" fill="#383838"/>
<circle cx="487.90" cy="60.10" r="1.0" fill="#383838"/>
<circle cx="504.90" cy="86.20" r="1.0" fill="#383838"/>
<line x1="432.50" y1="90.60" x2="450.50" y2="90.60" stroke="#3b5d8f" stroke-width="1.3"/>
<path d="M441.40 88.20L443.60 90.60L441.40 93.00L439.20 90.60Z" fill="#3b5d8f"/>
<text x="454.00" y="93.00" font-size="7.2" textLength="18.70" lengthAdjust="spacingAndGlyphs">shLuc</text>
<line x1="432.50" y1="102.40" x2="450.50" y2="102.40" stroke="#ad2538" stroke-width="1.3"/>
<rect x="439.50" y="100.70" width="3.8" height="3.4" fill="#ad2538"/>
<text x="454.00" y="104.80" font-size="7.2" textLength="32.80" lengthAdjust="spacingAndGlyphs">shBRCC36</text>
<text x="470.60" y="19.30" font-size="7.6" text-anchor="middle" textLength="15.00" lengthAdjust="spacingAndGlyphs" font-style="italic">MPL</text>
<text x="316.80" y="136.10" font-size="9.9" textLength="92.80" lengthAdjust="spacingAndGlyphs">Hours after TPO + CHX</text>
<line x1="206.50" y1="144.30" x2="206.50" y2="233.10" stroke="#231f20" stroke-width="1.15"/>
<line x1="205.90" y1="232.50" x2="297.00" y2="232.50" stroke="#231f20" stroke-width="1.15"/>
<line x1="203.50" y1="232.50" x2="206.50" y2="232.50" stroke="#231f20" stroke-width="1.0"/>
<text x="200.30" y="235.60" font-size="8" text-anchor="end">0</text>
<line x1="203.50" y1="211.50" x2="206.50" y2="211.50" stroke="#231f20" stroke-width="1.0"/>
<text x="200.30" y="214.25" font-size="8" text-anchor="end" textLength="9.56" lengthAdjust="spacingAndGlyphs">0.5</text>
<line x1="203.50" y1="190.50" x2="206.50" y2="190.50" stroke="#231f20" stroke-width="1.0"/>
<text x="200.30" y="192.90" font-size="8" text-anchor="end">1</text>
<line x1="203.50" y1="168.50" x2="206.50" y2="168.50" stroke="#231f20" stroke-width="1.0"/>
<text x="200.30" y="171.55" font-size="8" text-anchor="end" textLength="9.56" lengthAdjust="spacingAndGlyphs">1.5</text>
<line x1="203.50" y1="147.50" x2="206.50" y2="147.50" stroke="#231f20" stroke-width="1.0"/>
<text x="200.30" y="150.20" font-size="8" text-anchor="end">2</text>
<line x1="206.50" y1="232.50" x2="206.50" y2="235.50" stroke="#231f20" stroke-width="1.0"/>
<line x1="229.50" y1="232.50" x2="229.50" y2="235.50" stroke="#231f20" stroke-width="1.0"/>
<line x1="252.50" y1="232.50" x2="252.50" y2="235.50" stroke="#231f20" stroke-width="1.0"/>
<line x1="275.50" y1="232.50" x2="275.50" y2="235.50" stroke="#231f20" stroke-width="1.0"/>
<text x="218.10" y="245.90" font-size="8" text-anchor="middle" textLength="9.56" lengthAdjust="spacingAndGlyphs">0.5</text>
<text x="240.80" y="245.90" font-size="8" text-anchor="middle">1</text>
<text x="263.60" y="245.90" font-size="8" text-anchor="middle">2</text>
<text x="286.50" y="245.90" font-size="8" text-anchor="middle">4</text>
<line x1="240.50" y1="194.20" x2="240.50" y2="197.80" stroke="#333333" stroke-width="1.0"/>
<line x1="238.20" y1="194.50" x2="242.80" y2="194.50" stroke="#333333" stroke-width="1.0"/>
<line x1="238.20" y1="197.50" x2="242.80" y2="197.50" stroke="#333333" stroke-width="1.0"/>
<line x1="263.50" y1="195.30" x2="263.50" y2="201.60" stroke="#333333" stroke-width="1.0"/>
<line x1="261.20" y1="195.50" x2="265.80" y2="195.50" stroke="#333333" stroke-width="1.0"/>
<line x1="261.20" y1="201.50" x2="265.80" y2="201.50" stroke="#333333" stroke-width="1.0"/>
<line x1="286.50" y1="206.50" x2="286.50" y2="221.30" stroke="#333333" stroke-width="1.0"/>
<line x1="284.20" y1="206.50" x2="288.80" y2="206.50" stroke="#333333" stroke-width="1.0"/>
<line x1="284.20" y1="221.50" x2="288.80" y2="221.50" stroke="#333333" stroke-width="1.0"/>
<line x1="218.50" y1="160.40" x2="218.50" y2="182.00" stroke="#333333" stroke-width="1.0"/>
<line x1="216.20" y1="160.50" x2="220.80" y2="160.50" stroke="#333333" stroke-width="1.0"/>
<line x1="216.20" y1="182.50" x2="220.80" y2="182.50" stroke="#333333" stroke-width="1.0"/>
<line x1="240.50" y1="154.00" x2="240.50" y2="180.10" stroke="#333333" stroke-width="1.0"/>
<line x1="238.20" y1="154.50" x2="242.80" y2="154.50" stroke="#333333" stroke-width="1.0"/>
<line x1="238.20" y1="180.50" x2="242.80" y2="180.50" stroke="#333333" stroke-width="1.0"/>
<line x1="263.50" y1="171.40" x2="263.50" y2="198.50" stroke="#333333" stroke-width="1.0"/>
<line x1="261.20" y1="171.50" x2="265.80" y2="171.50" stroke="#333333" stroke-width="1.0"/>
<line x1="261.20" y1="198.50" x2="265.80" y2="198.50" stroke="#333333" stroke-width="1.0"/>
<line x1="286.50" y1="176.30" x2="286.50" y2="202.70" stroke="#333333" stroke-width="1.0"/>
<line x1="284.20" y1="176.50" x2="288.80" y2="176.50" stroke="#333333" stroke-width="1.0"/>
<line x1="284.20" y1="202.50" x2="288.80" y2="202.50" stroke="#333333" stroke-width="1.0"/>
<polyline points="218.10,190.00 240.80,195.90 263.60,198.90 286.50,213.70" fill="none" stroke="#3b5d8f" stroke-width="1.3" stroke-linejoin="round"/>
<path d="M218.10 187.60L220.30 190.00L218.10 192.40L215.90 190.00Z" fill="#3b5d8f"/>
<path d="M240.80 193.50L243.00 195.90L240.80 198.30L238.60 195.90Z" fill="#3b5d8f"/>
<path d="M263.60 196.50L265.80 198.90L263.60 201.30L261.40 198.90Z" fill="#3b5d8f"/>
<path d="M286.50 211.30L288.70 213.70L286.50 216.10L284.30 213.70Z" fill="#3b5d8f"/>
<polyline points="218.10,171.60 240.80,167.40 263.60,183.70 286.50,190.40" fill="none" stroke="#6aab4a" stroke-width="1.3" stroke-linejoin="round"/>
<path d="M218.10 169.10L220.70 173.70L215.50 173.70Z" fill="#6aab4a"/>
<path d="M240.80 164.90L243.40 169.50L238.20 169.50Z" fill="#6aab4a"/>
<path d="M263.60 181.20L266.20 185.80L261.00 185.80Z" fill="#6aab4a"/>
<path d="M286.50 187.90L289.10 192.50L283.90 192.50Z" fill="#6aab4a"/>
<circle cx="218.10" cy="156.20" r="1.0" fill="#383838"/>
<circle cx="240.80" cy="150.20" r="1.0" fill="#383838"/>
<circle cx="286.50" cy="172.70" r="1.0" fill="#383838"/>
<line x1="210.10" y1="214.30" x2="229.10" y2="214.30" stroke="#3b5d8f" stroke-width="1.3"/>
<path d="M219.60 211.90L221.80 214.30L219.60 216.70L217.40 214.30Z" fill="#3b5d8f"/>
<text x="232.20" y="216.70" font-size="7.2" textLength="18.70" lengthAdjust="spacingAndGlyphs">shLuc</text>
<line x1="210.10" y1="226.00" x2="229.10" y2="226.00" stroke="#6aab4a" stroke-width="1.3"/>
<path d="M219.60 223.50L222.20 228.10L217.00 228.10Z" fill="#6aab4a"/>
<text x="232.20" y="228.40" font-size="7.2" textLength="38.50" lengthAdjust="spacingAndGlyphs">shKIAA0157</text>
<line x1="321.50" y1="148.00" x2="321.50" y2="233.10" stroke="#231f20" stroke-width="1.15"/>
<line x1="320.90" y1="232.50" x2="404.80" y2="232.50" stroke="#231f20" stroke-width="1.15"/>
<line x1="318.50" y1="232.50" x2="321.50" y2="232.50" stroke="#231f20" stroke-width="1.0"/>
<text x="315.30" y="235.60" font-size="8" text-anchor="end">0</text>
<line x1="318.50" y1="212.50" x2="321.50" y2="212.50" stroke="#231f20" stroke-width="1.0"/>
<text x="315.30" y="214.97" font-size="8" text-anchor="end" textLength="9.56" lengthAdjust="spacingAndGlyphs">0.5</text>
<line x1="318.50" y1="191.50" x2="321.50" y2="191.50" stroke="#231f20" stroke-width="1.0"/>
<text x="315.30" y="194.35" font-size="8" text-anchor="end">1</text>
<line x1="318.50" y1="170.50" x2="321.50" y2="170.50" stroke="#231f20" stroke-width="1.0"/>
<text x="315.30" y="173.72" font-size="8" text-anchor="end" textLength="9.56" lengthAdjust="spacingAndGlyphs">1.5</text>
<line x1="318.50" y1="150.50" x2="321.50" y2="150.50" stroke="#231f20" stroke-width="1.0"/>
<text x="315.30" y="153.10" font-size="8" text-anchor="end">2</text>
<line x1="321.50" y1="232.50" x2="321.50" y2="235.50" stroke="#231f20" stroke-width="1.0"/>
<line x1="338.50" y1="232.50" x2="338.50" y2="235.50" stroke="#231f20" stroke-width="1.0"/>
<line x1="355.50" y1="232.50" x2="355.50" y2="235.50" stroke="#231f20" stroke-width="1.0"/>
<line x1="372.50" y1="232.50" x2="372.50" y2="235.50" stroke="#231f20" stroke-width="1.0"/>
<line x1="389.50" y1="232.50" x2="389.50" y2="235.50" stroke="#231f20" stroke-width="1.0"/>
<text x="329.90" y="245.90" font-size="8" text-anchor="middle">0</text>
<text x="346.80" y="245.90" font-size="8" text-anchor="middle" textLength="9.56" lengthAdjust="spacingAndGlyphs">0.5</text>
<text x="363.10" y="245.90" font-size="8" text-anchor="middle">1</text>
<text x="380.30" y="245.90" font-size="8" text-anchor="middle">2</text>
<text x="397.20" y="245.90" font-size="8" text-anchor="middle">4</text>
<line x1="363.50" y1="192.10" x2="363.50" y2="202.30" stroke="#333333" stroke-width="1.0"/>
<line x1="361.20" y1="192.50" x2="365.80" y2="192.50" stroke="#333333" stroke-width="1.0"/>
<line x1="361.20" y1="202.50" x2="365.80" y2="202.50" stroke="#333333" stroke-width="1.0"/>
<line x1="380.50" y1="201.00" x2="380.50" y2="204.80" stroke="#333333" stroke-width="1.0"/>
<line x1="378.20" y1="201.50" x2="382.80" y2="201.50" stroke="#333333" stroke-width="1.0"/>
<line x1="378.20" y1="204.50" x2="382.80" y2="204.50" stroke="#333333" stroke-width="1.0"/>
<line x1="397.50" y1="209.50" x2="397.50" y2="223.90" stroke="#333333" stroke-width="1.0"/>
<line x1="395.20" y1="209.50" x2="399.80" y2="209.50" stroke="#333333" stroke-width="1.0"/>
<line x1="395.20" y1="223.50" x2="399.80" y2="223.50" stroke="#333333" stroke-width="1.0"/>
<line x1="329.50" y1="163.10" x2="329.50" y2="177.30" stroke="#333333" stroke-width="1.0"/>
<line x1="327.20" y1="163.50" x2="331.80" y2="163.50" stroke="#333333" stroke-width="1.0"/>
<line x1="327.20" y1="177.50" x2="331.80" y2="177.50" stroke="#333333" stroke-width="1.0"/>
<line x1="346.50" y1="163.60" x2="346.50" y2="180.50" stroke="#333333" stroke-width="1.0"/>
<line x1="344.20" y1="163.50" x2="348.80" y2="163.50" stroke="#333333" stroke-width="1.0"/>
<line x1="344.20" y1="180.50" x2="348.80" y2="180.50" stroke="#333333" stroke-width="1.0"/>
<line x1="363.50" y1="164.60" x2="363.50" y2="183.20" stroke="#333333" stroke-width="1.0"/>
<line x1="361.20" y1="164.50" x2="365.80" y2="164.50" stroke="#333333" stroke-width="1.0"/>
<line x1="361.20" y1="183.50" x2="365.80" y2="183.50" stroke="#333333" stroke-width="1.0"/>
<line x1="380.50" y1="177.90" x2="380.50" y2="191.50" stroke="#333333" stroke-width="1.0"/>
<line x1="378.20" y1="177.50" x2="382.80" y2="177.50" stroke="#333333" stroke-width="1.0"/>
<line x1="378.20" y1="191.50" x2="382.80" y2="191.50" stroke="#333333" stroke-width="1.0"/>
<line x1="397.50" y1="190.40" x2="397.50" y2="204.40" stroke="#333333" stroke-width="1.0"/>
<line x1="395.20" y1="190.50" x2="399.80" y2="190.50" stroke="#333333" stroke-width="1.0"/>
<line x1="395.20" y1="204.50" x2="399.80" y2="204.50" stroke="#333333" stroke-width="1.0"/>
<polyline points="329.90,191.70 346.80,194.90 363.10,197.00 380.30,202.70 397.20,217.10" fill="none" stroke="#3b5d8f" stroke-width="1.3" stroke-linejoin="round"/>
<path d="M329.90 189.30L332.10 191.70L329.90 194.10L327.70 191.70Z" fill="#3b5d8f"/>
<path d="M346.80 192.50L349.00 194.90L346.80 197.30L344.60 194.90Z" fill="#3b5d8f"/>
<path d="M363.10 194.60L365.30 197.00L363.10 199.40L360.90 197.00Z" fill="#3b5d8f"/>
<path d="M380.30 200.30L382.50 202.70L380.30 205.10L378.10 202.70Z" fill="#3b5d8f"/>
<path d="M397.20 214.70L399.40 217.10L397.20 219.50L395.00 217.10Z" fill="#3b5d8f"/>
<polyline points="329.90,170.50 346.80,172.20 363.10,174.10 380.30,184.70 397.20,197.60" fill="none" stroke="#6aab4a" stroke-width="1.3" stroke-linejoin="round"/>
<path d="M329.90 168.00L332.50 172.60L327.30 172.60Z" fill="#6aab4a"/>
<path d="M346.80 169.70L349.40 174.30L344.20 174.30Z" fill="#6aab4a"/>
<path d="M363.10 171.60L365.70 176.20L360.50 176.20Z" fill="#6aab4a"/>
<path d="M380.30 182.20L382.90 186.80L377.70 186.80Z" fill="#6aab4a"/>
<path d="M397.20 195.10L399.80 199.70L394.60 199.70Z" fill="#6aab4a"/>
<circle cx="328.27" cy="159.80" r="1.0" fill="#383838"/>
<circle cx="331.52" cy="159.80" r="1.0" fill="#383838"/>
<circle cx="345.18" cy="159.80" r="1.0" fill="#383838"/>
<circle cx="348.43" cy="159.80" r="1.0" fill="#383838"/>
<circle cx="363.10" cy="160.80" r="1.0" fill="#383838"/>
<circle cx="380.30" cy="174.10" r="1.0" fill="#383838"/>
<circle cx="397.20" cy="185.80" r="1.0" fill="#383838"/>
<line x1="324.60" y1="214.30" x2="343.20" y2="214.30" stroke="#3b5d8f" stroke-width="1.3"/>
<path d="M334.10 211.90L336.30 214.30L334.10 216.70L331.90 214.30Z" fill="#3b5d8f"/>
<text x="346.70" y="216.70" font-size="7.2" textLength="18.70" lengthAdjust="spacingAndGlyphs">shLuc</text>
<line x1="324.60" y1="226.00" x2="343.20" y2="226.00" stroke="#6aab4a" stroke-width="1.3"/>
<path d="M334.10 223.50L336.70 228.10L331.50 228.10Z" fill="#6aab4a"/>
<text x="346.70" y="228.40" font-size="7.2" textLength="38.50" lengthAdjust="spacingAndGlyphs">shKIAA0157</text>
<line x1="428.50" y1="145.00" x2="428.50" y2="233.10" stroke="#231f20" stroke-width="1.15"/>
<line x1="427.90" y1="232.50" x2="512.50" y2="232.50" stroke="#231f20" stroke-width="1.15"/>
<line x1="425.50" y1="232.50" x2="428.50" y2="232.50" stroke="#231f20" stroke-width="1.0"/>
<text x="422.30" y="235.60" font-size="8" text-anchor="end">0</text>
<line x1="425.50" y1="211.50" x2="428.50" y2="211.50" stroke="#231f20" stroke-width="1.0"/>
<text x="422.30" y="214.45" font-size="8" text-anchor="end" textLength="9.56" lengthAdjust="spacingAndGlyphs">0.5</text>
<line x1="425.50" y1="190.50" x2="428.50" y2="190.50" stroke="#231f20" stroke-width="1.0"/>
<text x="422.30" y="193.30" font-size="8" text-anchor="end">1</text>
<line x1="425.50" y1="169.50" x2="428.50" y2="169.50" stroke="#231f20" stroke-width="1.0"/>
<text x="422.30" y="172.15" font-size="8" text-anchor="end" textLength="9.56" lengthAdjust="spacingAndGlyphs">1.5</text>
<line x1="425.50" y1="148.50" x2="428.50" y2="148.50" stroke="#231f20" stroke-width="1.0"/>
<text x="422.30" y="151.00" font-size="8" text-anchor="end">2</text>
<line x1="428.50" y1="232.50" x2="428.50" y2="235.50" stroke="#231f20" stroke-width="1.0"/>
<line x1="445.50" y1="232.50" x2="445.50" y2="235.50" stroke="#231f20" stroke-width="1.0"/>
<line x1="462.50" y1="232.50" x2="462.50" y2="235.50" stroke="#231f20" stroke-width="1.0"/>
<line x1="479.50" y1="232.50" x2="479.50" y2="235.50" stroke="#231f20" stroke-width="1.0"/>
<line x1="496.50" y1="232.50" x2="496.50" y2="235.50" stroke="#231f20" stroke-width="1.0"/>
<text x="437.20" y="245.90" font-size="8" text-anchor="middle">0</text>
<text x="454.10" y="245.90" font-size="8" text-anchor="middle" textLength="9.56" lengthAdjust="spacingAndGlyphs">0.5</text>
<text x="471.00" y="245.90" font-size="8" text-anchor="middle">1</text>
<text x="487.90" y="245.90" font-size="8" text-anchor="middle">2</text>
<text x="504.90" y="245.90" font-size="8" text-anchor="middle">4</text>
<line x1="454.50" y1="192.50" x2="454.50" y2="200.20" stroke="#333333" stroke-width="1.0"/>
<line x1="452.20" y1="192.50" x2="456.80" y2="192.50" stroke="#333333" stroke-width="1.0"/>
<line x1="452.20" y1="200.50" x2="456.80" y2="200.50" stroke="#333333" stroke-width="1.0"/>
<line x1="471.50" y1="195.30" x2="471.50" y2="201.60" stroke="#333333" stroke-width="1.0"/>
<line x1="469.20" y1="195.50" x2="473.80" y2="195.50" stroke="#333333" stroke-width="1.0"/>
<line x1="469.20" y1="201.50" x2="473.80" y2="201.50" stroke="#333333" stroke-width="1.0"/>
<line x1="487.50" y1="200.60" x2="487.50" y2="205.20" stroke="#333333" stroke-width="1.0"/>
<line x1="485.20" y1="200.50" x2="489.80" y2="200.50" stroke="#333333" stroke-width="1.0"/>
<line x1="485.20" y1="205.50" x2="489.80" y2="205.50" stroke="#333333" stroke-width="1.0"/>
<line x1="504.50" y1="218.60" x2="504.50" y2="226.00" stroke="#333333" stroke-width="1.0"/>
<line x1="502.20" y1="218.50" x2="506.80" y2="218.50" stroke="#333333" stroke-width="1.0"/>
<line x1="502.20" y1="226.50" x2="506.80" y2="226.50" stroke="#333333" stroke-width="1.0"/>
<line x1="437.50" y1="152.60" x2="437.50" y2="179.80" stroke="#333333" stroke-width="1.0"/>
<line x1="435.20" y1="152.50" x2="439.80" y2="152.50" stroke="#333333" stroke-width="1.0"/>
<line x1="435.20" y1="179.50" x2="439.80" y2="179.50" stroke="#333333" stroke-width="1.0"/>
<line x1="454.50" y1="162.50" x2="454.50" y2="169.90" stroke="#333333" stroke-width="1.0"/>
<line x1="452.20" y1="162.50" x2="456.80" y2="162.50" stroke="#333333" stroke-width="1.0"/>
<line x1="452.20" y1="169.50" x2="456.80" y2="169.50" stroke="#333333" stroke-width="1.0"/>
<line x1="471.50" y1="163.10" x2="471.50" y2="183.70" stroke="#333333" stroke-width="1.0"/>
<line x1="469.20" y1="163.50" x2="473.80" y2="163.50" stroke="#333333" stroke-width="1.0"/>
<line x1="469.20" y1="183.50" x2="473.80" y2="183.50" stroke="#333333" stroke-width="1.0"/>
<line x1="487.50" y1="192.00" x2="487.50" y2="204.00" stroke="#333333" stroke-width="1.0"/>
<line x1="485.20" y1="192.50" x2="489.80" y2="192.50" stroke="#333333" stroke-width="1.0"/>
<line x1="485.20" y1="204.50" x2="489.80" y2="204.50" stroke="#333333" stroke-width="1.0"/>
<line x1="504.50" y1="208.60" x2="504.50" y2="226.00" stroke="#333333" stroke-width="1.0"/>
<line x1="502.20" y1="208.50" x2="506.80" y2="208.50" stroke="#333333" stroke-width="1.0"/>
<line x1="502.20" y1="226.50" x2="506.80" y2="226.50" stroke="#333333" stroke-width="1.0"/>
<polyline points="437.20,191.10 454.10,196.30 471.00,198.00 487.90,203.10 504.90,221.70" fill="none" stroke="#3b5d8f" stroke-width="1.3" stroke-linejoin="round"/>
<path d="M437.20 188.70L439.40 191.10L437.20 193.50L435.00 191.10Z" fill="#3b5d8f"/>
<path d="M454.10 193.90L456.30 196.30L454.10 198.70L451.90 196.30Z" fill="#3b5d8f"/>
<path d="M471.00 195.60L473.20 198.00L471.00 200.40L468.80 198.00Z" fill="#3b5d8f"/>
<path d="M487.90 200.70L490.10 203.10L487.90 205.50L485.70 203.10Z" fill="#3b5d8f"/>
<path d="M504.90 219.30L507.10 221.70L504.90 224.10L502.70 221.70Z" fill="#3b5d8f"/>
<polyline points="437.20,166.30 454.10,166.30 471.00,174.10 487.90,197.80 504.90,217.50" fill="none" stroke="#6aab4a" stroke-width="1.3" stroke-linejoin="round"/>
<path d="M437.20 163.80L439.80 168.40L434.60 168.40Z" fill="#6aab4a"/>
<path d="M454.10 163.80L456.70 168.40L451.50 168.40Z" fill="#6aab4a"/>
<path d="M471.00 171.60L473.60 176.20L468.40 176.20Z" fill="#6aab4a"/>
<path d="M487.90 195.30L490.50 199.90L485.30 199.90Z" fill="#6aab4a"/>
<path d="M504.90 215.00L507.50 219.60L502.30 219.60Z" fill="#6aab4a"/>
<circle cx="437.20" cy="148.10" r="1.0" fill="#383838"/>
<circle cx="452.48" cy="158.70" r="1.0" fill="#383838"/>
<circle cx="455.73" cy="158.70" r="1.0" fill="#383838"/>
<circle cx="471.00" cy="159.30" r="1.0" fill="#383838"/>
<line x1="432.50" y1="214.30" x2="451.10" y2="214.30" stroke="#3b5d8f" stroke-width="1.3"/>
<path d="M441.40 211.90L443.60 214.30L441.40 216.70L439.20 214.30Z" fill="#3b5d8f"/>
<text x="454.00" y="216.70" font-size="7.2" textLength="18.70" lengthAdjust="spacingAndGlyphs">shLuc</text>
<line x1="432.50" y1="226.00" x2="451.10" y2="226.00" stroke="#6aab4a" stroke-width="1.3"/>
<path d="M441.40 223.50L444.00 228.10L438.80 228.10Z" fill="#6aab4a"/>
<text x="454.00" y="228.40" font-size="7.2" textLength="38.50" lengthAdjust="spacingAndGlyphs">shKIAA0157</text>
<text x="316.90" y="260.10" font-size="9.9" textLength="92.60" lengthAdjust="spacingAndGlyphs">Hours after TPO + CHX</text>
<text x="9.00" y="275.60" font-size="12.1" textLength="6.20" lengthAdjust="spacingAndGlyphs">B</text>
<line x1="53.90" y1="285.50" x2="53.90" y2="417.00" stroke="#231f20" stroke-width="1.3"/>
<line x1="53.20" y1="416.50" x2="204.50" y2="416.50" stroke="#231f20" stroke-width="1.1"/>
<line x1="50.80" y1="416.50" x2="53.50" y2="416.50" stroke="#231f20" stroke-width="1.0"/>
<text x="47.60" y="419.15" font-size="8" text-anchor="end" textLength="9.56" lengthAdjust="spacingAndGlyphs">0.4</text>
<line x1="50.80" y1="403.50" x2="53.50" y2="403.50" stroke="#231f20" stroke-width="1.0"/>
<text x="47.60" y="406.29" font-size="8" text-anchor="end" textLength="9.56" lengthAdjust="spacingAndGlyphs">0.5</text>
<line x1="50.80" y1="390.50" x2="53.50" y2="390.50" stroke="#231f20" stroke-width="1.0"/>
<text x="47.60" y="393.43" font-size="8" text-anchor="end" textLength="9.56" lengthAdjust="spacingAndGlyphs">0.6</text>
<line x1="50.80" y1="377.50" x2="53.50" y2="377.50" stroke="#231f20" stroke-width="1.0"/>
<text x="47.60" y="380.57" font-size="8" text-anchor="end" textLength="9.56" lengthAdjust="spacingAndGlyphs">0.7</text>
<line x1="50.80" y1="364.50" x2="53.50" y2="364.50" stroke="#231f20" stroke-width="1.0"/>
<text x="47.60" y="367.71" font-size="8" text-anchor="end" textLength="9.56" lengthAdjust="spacingAndGlyphs">0.8</text>
<line x1="50.80" y1="351.50" x2="53.50" y2="351.50" stroke="#231f20" stroke-width="1.0"/>
<text x="47.60" y="354.85" font-size="8" text-anchor="end" textLength="9.56" lengthAdjust="spacingAndGlyphs">0.9</text>
<line x1="50.80" y1="339.50" x2="53.50" y2="339.50" stroke="#231f20" stroke-width="1.0"/>
<text x="47.60" y="341.99" font-size="8" text-anchor="end">1</text>
<line x1="50.80" y1="326.50" x2="53.50" y2="326.50" stroke="#231f20" stroke-width="1.0"/>
<text x="47.60" y="329.13" font-size="8" text-anchor="end" textLength="9.56" lengthAdjust="spacingAndGlyphs">1.1</text>
<line x1="50.80" y1="313.50" x2="53.50" y2="313.50" stroke="#231f20" stroke-width="1.0"/>
<text x="47.60" y="316.27" font-size="8" text-anchor="end" textLength="9.56" lengthAdjust="spacingAndGlyphs">1.2</text>
<line x1="50.80" y1="300.50" x2="53.50" y2="300.50" stroke="#231f20" stroke-width="1.0"/>
<text x="47.60" y="303.41" font-size="8" text-anchor="end" textLength="9.56" lengthAdjust="spacingAndGlyphs">1.3</text>
<line x1="50.80" y1="287.50" x2="53.50" y2="287.50" stroke="#231f20" stroke-width="1.0"/>
<text x="47.60" y="290.55" font-size="8" text-anchor="end" textLength="9.56" lengthAdjust="spacingAndGlyphs">1.4</text>
<line x1="53.90" y1="416.50" x2="53.90" y2="419.60" stroke="#231f20" stroke-width="1.0"/>
<text x="53.50" y="429.50" font-size="8" text-anchor="middle">0</text>
<line x1="102.50" y1="416.50" x2="102.50" y2="419.60" stroke="#231f20" stroke-width="1.0"/>
<text x="102.90" y="429.50" font-size="8" text-anchor="middle" textLength="7.65" lengthAdjust="spacingAndGlyphs">20</text>
<line x1="152.50" y1="416.50" x2="152.50" y2="419.60" stroke="#231f20" stroke-width="1.0"/>
<text x="152.30" y="429.50" font-size="8" text-anchor="middle" textLength="7.65" lengthAdjust="spacingAndGlyphs">40</text>
<line x1="201.50" y1="416.50" x2="201.50" y2="419.60" stroke="#231f20" stroke-width="1.0"/>
<text x="201.70" y="429.50" font-size="8" text-anchor="middle" textLength="7.65" lengthAdjust="spacingAndGlyphs">60</text>
<text x="92.70" y="443.20" font-size="9.8" textLength="73.30" lengthAdjust="spacingAndGlyphs">Minutes after TPO</text>
<text x="30.20" y="350.40" font-size="9" text-anchor="middle" textLength="123.20" lengthAdjust="spacingAndGlyphs" transform="rotate(-90 30.20 350.40)">Relative cell surface MPL level</text>
<line x1="53.50" y1="298.70" x2="53.50" y2="320.50" stroke="#333333" stroke-width="1.0"/>
<line x1="51.20" y1="298.50" x2="55.80" y2="298.50" stroke="#333333" stroke-width="1.0"/>
<line x1="51.20" y1="320.50" x2="55.80" y2="320.50" stroke="#333333" stroke-width="1.0"/>
<line x1="78.50" y1="295.30" x2="78.50" y2="320.80" stroke="#333333" stroke-width="1.0"/>
<line x1="76.20" y1="295.50" x2="80.80" y2="295.50" stroke="#333333" stroke-width="1.0"/>
<line x1="76.20" y1="320.50" x2="80.80" y2="320.50" stroke="#333333" stroke-width="1.0"/>
<line x1="102.50" y1="320.20" x2="102.50" y2="347.00" stroke="#333333" stroke-width="1.0"/>
<line x1="100.20" y1="320.50" x2="104.80" y2="320.50" stroke="#333333" stroke-width="1.0"/>
<line x1="100.20" y1="347.50" x2="104.80" y2="347.50" stroke="#333333" stroke-width="1.0"/>
<line x1="127.50" y1="324.90" x2="127.50" y2="360.80" stroke="#333333" stroke-width="1.0"/>
<line x1="125.20" y1="324.50" x2="129.80" y2="324.50" stroke="#333333" stroke-width="1.0"/>
<line x1="125.20" y1="360.50" x2="129.80" y2="360.50" stroke="#333333" stroke-width="1.0"/>
<line x1="78.50" y1="341.80" x2="78.50" y2="354.90" stroke="#333333" stroke-width="1.0"/>
<line x1="76.20" y1="341.50" x2="80.80" y2="341.50" stroke="#333333" stroke-width="1.0"/>
<line x1="76.20" y1="354.50" x2="80.80" y2="354.50" stroke="#333333" stroke-width="1.0"/>
<line x1="102.50" y1="370.80" x2="102.50" y2="376.40" stroke="#333333" stroke-width="1.0"/>
<line x1="100.20" y1="370.50" x2="104.80" y2="370.50" stroke="#333333" stroke-width="1.0"/>
<line x1="100.20" y1="376.50" x2="104.80" y2="376.50" stroke="#333333" stroke-width="1.0"/>
<line x1="127.50" y1="372.10" x2="127.50" y2="382.90" stroke="#333333" stroke-width="1.0"/>
<line x1="125.20" y1="372.50" x2="129.80" y2="372.50" stroke="#333333" stroke-width="1.0"/>
<line x1="125.20" y1="382.50" x2="129.80" y2="382.50" stroke="#333333" stroke-width="1.0"/>
<line x1="201.50" y1="356.00" x2="201.50" y2="373.00" stroke="#333333" stroke-width="1.0"/>
<line x1="199.20" y1="356.50" x2="203.80" y2="356.50" stroke="#333333" stroke-width="1.0"/>
<line x1="199.20" y1="373.50" x2="203.80" y2="373.50" stroke="#333333" stroke-width="1.0"/>
<line x1="201.50" y1="359.00" x2="201.50" y2="378.00" stroke="#333333" stroke-width="1.0"/>
<line x1="199.20" y1="359.50" x2="203.80" y2="359.50" stroke="#333333" stroke-width="1.0"/>
<line x1="199.20" y1="378.50" x2="203.80" y2="378.50" stroke="#333333" stroke-width="1.0"/>
<line x1="201.50" y1="381.00" x2="201.50" y2="401.70" stroke="#333333" stroke-width="1.0"/>
<line x1="199.20" y1="381.50" x2="203.80" y2="381.50" stroke="#333333" stroke-width="1.0"/>
<line x1="199.20" y1="401.50" x2="203.80" y2="401.50" stroke="#333333" stroke-width="1.0"/>
<line x1="127.50" y1="330.00" x2="127.50" y2="349.50" stroke="#333333" stroke-width="1.0"/>
<line x1="125.20" y1="330.50" x2="129.80" y2="330.50" stroke="#333333" stroke-width="1.0"/>
<line x1="125.20" y1="349.50" x2="129.80" y2="349.50" stroke="#333333" stroke-width="1.0"/>
<line x1="102.50" y1="328.00" x2="102.50" y2="350.00" stroke="#333333" stroke-width="1.0"/>
<line x1="100.20" y1="328.50" x2="104.80" y2="328.50" stroke="#333333" stroke-width="1.0"/>
<line x1="100.20" y1="350.50" x2="104.80" y2="350.50" stroke="#333333" stroke-width="1.0"/>
<path d="M53.50 339.50 C58.44 341.38 68.32 342.08 78.20 348.90 C88.08 355.72 93.02 367.80 102.90 373.60 C112.78 379.40 107.84 374.26 127.60 377.90 C147.36 381.54 186.88 389.02 201.70 391.80" fill="none" stroke="#3b5d8f" stroke-width="1.3"/>
<path d="M53.50 314.60 C58.44 313.10 68.32 303.36 78.20 307.10 C88.08 310.84 93.02 325.36 102.90 333.30 C112.78 341.24 107.84 340.56 127.60 346.80 C147.36 353.04 186.88 360.96 201.70 364.50" fill="none" stroke="#ad2538" stroke-width="1.3"/>
<path d="M53.50 309.90 C58.44 310.36 68.32 306.20 78.20 312.20 C88.08 318.20 93.02 334.36 102.90 339.90 C112.78 345.44 107.84 333.98 127.60 339.90 C147.36 345.82 186.88 363.58 201.70 369.50" fill="none" stroke="#6aab4a" stroke-width="1.3"/>
<path d="M53.50 337.10L55.70 339.50L53.50 341.90L51.30 339.50Z" fill="#3b5d8f"/>
<path d="M78.20 346.50L80.40 348.90L78.20 351.30L76.00 348.90Z" fill="#3b5d8f"/>
<path d="M102.90 371.20L105.10 373.60L102.90 376.00L100.70 373.60Z" fill="#3b5d8f"/>
<path d="M127.60 375.50L129.80 377.90L127.60 380.30L125.40 377.90Z" fill="#3b5d8f"/>
<path d="M201.70 389.40L203.90 391.80L201.70 394.20L199.50 391.80Z" fill="#3b5d8f"/>
<rect x="51.60" y="312.90" width="3.8" height="3.4" fill="#ad2538"/>
<rect x="76.30" y="305.40" width="3.8" height="3.4" fill="#ad2538"/>
<rect x="101.00" y="331.60" width="3.8" height="3.4" fill="#ad2538"/>
<rect x="125.70" y="345.10" width="3.8" height="3.4" fill="#ad2538"/>
<rect x="199.80" y="362.80" width="3.8" height="3.4" fill="#ad2538"/>
<path d="M53.50 307.40L56.10 312.00L50.90 312.00Z" fill="#6aab4a"/>
<path d="M78.20 309.70L80.80 314.30L75.60 314.30Z" fill="#6aab4a"/>
<path d="M102.90 337.40L105.50 342.00L100.30 342.00Z" fill="#6aab4a"/>
<path d="M127.60 337.40L130.20 342.00L125.00 342.00Z" fill="#6aab4a"/>
<path d="M201.70 367.00L204.30 371.60L199.10 371.60Z" fill="#6aab4a"/>
<circle cx="60.90" cy="299.60" r="1.0" fill="#383838"/>
<circle cx="59.27" cy="304.90" r="1.0" fill="#383838"/>
<circle cx="62.52" cy="304.90" r="1.0" fill="#383838"/>
<circle cx="78.30" cy="284.30" r="1.0" fill="#383838"/>
<circle cx="78.30" cy="290.90" r="1.0" fill="#383838"/>
<circle cx="101.38" cy="310.90" r="1.0" fill="#383838"/>
<circle cx="104.62" cy="310.90" r="1.0" fill="#383838"/>
<circle cx="103.00" cy="316.50" r="1.0" fill="#383838"/>
<circle cx="127.90" cy="321.20" r="1.0" fill="#383838"/>
<line x1="57.20" y1="385.80" x2="76.20" y2="385.80" stroke="#3b5d8f" stroke-width="1.3"/>
<path d="M66.50 383.40L68.70 385.80L66.50 388.20L64.30 385.80Z" fill="#3b5d8f"/>
<text x="79.50" y="388.40" font-size="7.5" textLength="17.60" lengthAdjust="spacingAndGlyphs">shLuc</text>
<line x1="57.20" y1="397.50" x2="76.20" y2="397.50" stroke="#ad2538" stroke-width="1.3"/>
<rect x="64.60" y="395.80" width="3.8" height="3.4" fill="#ad2538"/>
<text x="79.50" y="400.10" font-size="7.5" textLength="29.00" lengthAdjust="spacingAndGlyphs">shBrcc36</text>
<line x1="57.20" y1="409.10" x2="76.20" y2="409.10" stroke="#6aab4a" stroke-width="1.3"/>
<path d="M66.50 406.60L69.10 411.20L63.90 411.20Z" fill="#6aab4a"/>
<text x="79.50" y="411.70" font-size="7.5" textLength="36.00" lengthAdjust="spacingAndGlyphs">shKiaa0157</text>
<text x="252.30" y="275.80" font-size="12.2" textLength="6.70" lengthAdjust="spacingAndGlyphs">C</text>
<text x="277.60" y="288.90" font-size="8.6" textLength="124.80" lengthAdjust="spacingAndGlyphs">Cell surface MPL associated proteins</text>
<text x="289.50" y="301.30" font-size="8.6" textLength="23.80" lengthAdjust="spacingAndGlyphs">sh LUC</text>
<text x="368.80" y="301.40" font-size="8.6" textLength="37.20" lengthAdjust="spacingAndGlyphs">sh BRCC36</text>
<line x1="262.60" y1="306.20" x2="340.70" y2="306.20" stroke="#505050" stroke-width="1.3"/>
<line x1="349.20" y1="305.90" x2="424.90" y2="305.90" stroke="#505050" stroke-width="1.3"/>
<text x="262.50" y="316.20" font-size="8.3" textLength="5.00" lengthAdjust="spacingAndGlyphs">C</text>
<text x="274.30" y="316.20" font-size="8.3" textLength="4.00" lengthAdjust="spacingAndGlyphs">0</text>
<text x="286.30" y="316.20" font-size="8.3" textLength="8.70" lengthAdjust="spacingAndGlyphs">10</text>
<text x="301.30" y="316.20" font-size="8.3" textLength="8.70" lengthAdjust="spacingAndGlyphs">30</text>
<text x="313.80" y="316.20" font-size="8.3" textLength="8.70" lengthAdjust="spacingAndGlyphs">60</text>
<text x="327.50" y="316.20" font-size="8.3" textLength="13.00" lengthAdjust="spacingAndGlyphs">120</text>
<text x="348.00" y="316.20" font-size="8.3" textLength="4.50" lengthAdjust="spacingAndGlyphs">C</text>
<text x="360.00" y="316.20" font-size="8.3" textLength="3.80" lengthAdjust="spacingAndGlyphs">0</text>
<text x="369.00" y="316.20" font-size="8.3" textLength="8.40" lengthAdjust="spacingAndGlyphs">10</text>
<text x="383.80" y="316.20" font-size="8.3" textLength="8.70" lengthAdjust="spacingAndGlyphs">30</text>
<text x="399.40" y="316.20" font-size="8.3" textLength="8.60" lengthAdjust="spacingAndGlyphs">60</text>
<text x="413.30" y="316.20" font-size="8.3" textLength="12.90" lengthAdjust="spacingAndGlyphs">120</text>
<text x="432.00" y="316.20" font-size="8.3" textLength="13.60" lengthAdjust="spacingAndGlyphs">min</text>
<rect x="251" y="321.8" width="178.2" height="20.2" fill="#e2e2e2"/>
<rect x="270.10" y="330.65" width="10.80" height="2.70" rx="1.35" fill="#1a1a1a" fill-opacity="0.05" filter="url(#b1)"/>
<rect x="284.10" y="330.65" width="10.80" height="2.70" rx="1.35" fill="#1a1a1a" fill-opacity="0.30" filter="url(#b1)"/>
<rect x="298.60" y="330.65" width="10.80" height="2.70" rx="1.35" fill="#1a1a1a" fill-opacity="0.55" filter="url(#b1)"/>
<rect x="313.10" y="330.65" width="10.80" height="2.70" rx="1.35" fill="#1a1a1a" fill-opacity="0.70" filter="url(#b1)"/>
<rect x="327.80" y="330.65" width="10.80" height="2.70" rx="1.35" fill="#1a1a1a" fill-opacity="0.85" filter="url(#b1)"/>
<rect x="355.80" y="330.65" width="10.80" height="2.70" rx="1.35" fill="#1a1a1a" fill-opacity="0.15" filter="url(#b1)"/>
<rect x="370.50" y="330.65" width="10.80" height="2.70" rx="1.35" fill="#1a1a1a" fill-opacity="0.70" filter="url(#b1)"/>
<rect x="385.00" y="330.65" width="10.80" height="2.70" rx="1.35" fill="#1a1a1a" fill-opacity="0.75" filter="url(#b1)"/>
<rect x="399.30" y="330.65" width="10.80" height="2.70" rx="1.35" fill="#1a1a1a" fill-opacity="0.70" filter="url(#b1)"/>
<rect x="414.20" y="330.65" width="10.80" height="2.70" rx="1.35" fill="#1a1a1a" fill-opacity="0.75" filter="url(#b1)"/>
<rect x="251" y="344.9" width="178.2" height="20.4" fill="#e4e4e4"/>
<rect x="255.60" y="351.50" width="10.80" height="2.60" rx="1.30" fill="#1a1a1a" fill-opacity="0.06" filter="url(#b1)"/>
<rect x="270.10" y="351.50" width="10.80" height="2.60" rx="1.30" fill="#1a1a1a" fill-opacity="0.20" filter="url(#b1)"/>
<rect x="284.10" y="351.50" width="10.80" height="2.60" rx="1.30" fill="#1a1a1a" fill-opacity="0.60" filter="url(#b1)"/>
<rect x="298.60" y="351.50" width="10.80" height="2.60" rx="1.30" fill="#1a1a1a" fill-opacity="0.85" filter="url(#b1)"/>
<rect x="313.10" y="351.50" width="10.80" height="2.60" rx="1.30" fill="#1a1a1a" fill-opacity="0.70" filter="url(#b1)"/>
<rect x="327.80" y="351.50" width="10.80" height="2.60" rx="1.30" fill="#1a1a1a" fill-opacity="0.70" filter="url(#b1)"/>
<rect x="355.80" y="351.50" width="10.80" height="2.60" rx="1.30" fill="#1a1a1a" fill-opacity="0.60" filter="url(#b1)"/>
<rect x="370.50" y="351.50" width="10.80" height="2.60" rx="1.30" fill="#1a1a1a" fill-opacity="0.80" filter="url(#b1)"/>
<rect x="385.00" y="351.50" width="10.80" height="2.60" rx="1.30" fill="#1a1a1a" fill-opacity="0.90" filter="url(#b1)"/>
<rect x="399.30" y="351.50" width="10.80" height="2.60" rx="1.30" fill="#1a1a1a" fill-opacity="0.70" filter="url(#b1)"/>
<rect x="414.20" y="351.50" width="10.80" height="2.60" rx="1.30" fill="#1a1a1a" fill-opacity="0.70" filter="url(#b1)"/>
<rect x="251" y="368.3" width="178.2" height="20" fill="#dedede"/>
<rect x="284.00" y="374.85" width="11.00" height="5.50" rx="2.00" fill="#1a1a1a" fill-opacity="0.42" filter="url(#b2)"/>
<rect x="298.50" y="374.85" width="11.00" height="5.50" rx="2.00" fill="#1a1a1a" fill-opacity="0.25" filter="url(#b2)"/>
<rect x="313.00" y="374.85" width="11.00" height="5.50" rx="2.00" fill="#1a1a1a" fill-opacity="0.15" filter="url(#b2)"/>
<rect x="327.70" y="374.85" width="11.00" height="5.50" rx="2.00" fill="#1a1a1a" fill-opacity="0.15" filter="url(#b2)"/>
<rect x="370.40" y="374.85" width="11.00" height="5.50" rx="2.00" fill="#1a1a1a" fill-opacity="0.62" filter="url(#b2)"/>
<rect x="384.90" y="374.85" width="11.00" height="5.50" rx="2.00" fill="#1a1a1a" fill-opacity="0.35" filter="url(#b2)"/>
<rect x="399.20" y="374.85" width="11.00" height="5.50" rx="2.00" fill="#1a1a1a" fill-opacity="0.15" filter="url(#b2)"/>
<rect x="414.10" y="374.85" width="11.00" height="5.50" rx="2.00" fill="#1a1a1a" fill-opacity="0.15" filter="url(#b2)"/>
<rect x="251" y="391.0" width="178.2" height="20.3" fill="#e2e2e2"/>
<rect x="270.80" y="398.00" width="11.20" height="5.20" rx="2.00" fill="#1a1a1a" fill-opacity="0.85" filter="url(#b1)"/>
<rect x="285.00" y="398.00" width="11.20" height="5.20" rx="2.00" fill="#1a1a1a" fill-opacity="0.80" filter="url(#b1)"/>
<rect x="299.40" y="398.00" width="11.20" height="5.20" rx="2.00" fill="#1a1a1a" fill-opacity="0.35" filter="url(#b1)"/>
<rect x="314.20" y="398.00" width="11.20" height="5.20" rx="2.00" fill="#1a1a1a" fill-opacity="0.72" filter="url(#b1)"/>
<rect x="328.50" y="398.00" width="11.20" height="5.20" rx="2.00" fill="#1a1a1a" fill-opacity="0.55" filter="url(#b1)"/>
<rect x="357.80" y="398.00" width="11.20" height="5.20" rx="2.00" fill="#1a1a1a" fill-opacity="0.97" filter="url(#b1)"/>
<rect x="371.20" y="398.00" width="11.20" height="5.20" rx="2.00" fill="#1a1a1a" fill-opacity="0.92" filter="url(#b1)"/>
<rect x="385.60" y="398.00" width="11.20" height="5.20" rx="2.00" fill="#1a1a1a" fill-opacity="0.60" filter="url(#b1)"/>
<rect x="400.50" y="398.00" width="11.20" height="5.20" rx="2.00" fill="#1a1a1a" fill-opacity="0.88" filter="url(#b1)"/>
<rect x="415.40" y="398.00" width="11.20" height="5.20" rx="2.00" fill="#1a1a1a" fill-opacity="0.50" filter="url(#b1)"/>
<text x="432.60" y="334.50" font-size="8.6" textLength="21.00" lengthAdjust="spacingAndGlyphs">pJAK2</text>
<text x="432.60" y="355.90" font-size="8.6" textLength="16.70" lengthAdjust="spacingAndGlyphs">JAK2</text>
<text x="432.60" y="377.40" font-size="8.6" textLength="19.50" lengthAdjust="spacingAndGlyphs">pMPL</text>
<text x="432.60" y="386.80" font-size="8.6" textLength="22.40" lengthAdjust="spacingAndGlyphs">(4G10)</text>
<text x="432.40" y="403.90" font-size="8.6" textLength="14.90" lengthAdjust="spacingAndGlyphs" font-style="italic">MPL</text>
<text x="9.20" y="469.70" font-size="11.6" textLength="7.70" lengthAdjust="spacingAndGlyphs">D</text>
<line x1="53.50" y1="476.50" x2="53.50" y2="604.20" stroke="#231f20" stroke-width="1.1"/>
<line x1="53.00" y1="603.50" x2="188.00" y2="603.50" stroke="#231f20" stroke-width="1.1"/>
<line x1="50.50" y1="603.50" x2="53.50" y2="603.50" stroke="#231f20" stroke-width="1.0"/>
<text x="48.60" y="606.90" font-size="8" text-anchor="end">0</text>
<line x1="50.50" y1="591.50" x2="53.50" y2="591.50" stroke="#231f20" stroke-width="1.0"/>
<text x="48.60" y="594.40" font-size="8" text-anchor="end" textLength="8.72" lengthAdjust="spacingAndGlyphs">10</text>
<line x1="50.50" y1="578.50" x2="53.50" y2="578.50" stroke="#231f20" stroke-width="1.0"/>
<text x="48.60" y="581.90" font-size="8" text-anchor="end" textLength="8.72" lengthAdjust="spacingAndGlyphs">20</text>
<line x1="50.50" y1="566.50" x2="53.50" y2="566.50" stroke="#231f20" stroke-width="1.0"/>
<text x="48.60" y="569.40" font-size="8" text-anchor="end" textLength="8.72" lengthAdjust="spacingAndGlyphs">30</text>
<line x1="50.50" y1="553.50" x2="53.50" y2="553.50" stroke="#231f20" stroke-width="1.0"/>
<text x="48.60" y="556.90" font-size="8" text-anchor="end" textLength="8.72" lengthAdjust="spacingAndGlyphs">40</text>
<line x1="50.50" y1="541.50" x2="53.50" y2="541.50" stroke="#231f20" stroke-width="1.0"/>
<text x="48.60" y="544.40" font-size="8" text-anchor="end" textLength="8.72" lengthAdjust="spacingAndGlyphs">50</text>
<line x1="50.50" y1="528.50" x2="53.50" y2="528.50" stroke="#231f20" stroke-width="1.0"/>
<text x="48.60" y="531.90" font-size="8" text-anchor="end" textLength="8.72" lengthAdjust="spacingAndGlyphs">60</text>
<line x1="50.50" y1="516.50" x2="53.50" y2="516.50" stroke="#231f20" stroke-width="1.0"/>
<text x="48.60" y="519.40" font-size="8" text-anchor="end" textLength="8.72" lengthAdjust="spacingAndGlyphs">70</text>
<line x1="50.50" y1="503.50" x2="53.50" y2="503.50" stroke="#231f20" stroke-width="1.0"/>
<text x="48.60" y="506.90" font-size="8" text-anchor="end" textLength="8.72" lengthAdjust="spacingAndGlyphs">80</text>
<line x1="50.50" y1="491.50" x2="53.50" y2="491.50" stroke="#231f20" stroke-width="1.0"/>
<text x="48.60" y="494.40" font-size="8" text-anchor="end" textLength="8.72" lengthAdjust="spacingAndGlyphs">90</text>
<line x1="50.50" y1="478.50" x2="53.50" y2="478.50" stroke="#231f20" stroke-width="1.0"/>
<text x="48.60" y="481.90" font-size="8" text-anchor="end" textLength="13.08" lengthAdjust="spacingAndGlyphs">100</text>
<line x1="53.50" y1="603.50" x2="53.50" y2="606.80" stroke="#231f20" stroke-width="1.0"/>
<line x1="80.50" y1="603.50" x2="80.50" y2="606.80" stroke="#231f20" stroke-width="1.0"/>
<line x1="106.50" y1="603.50" x2="106.50" y2="606.80" stroke="#231f20" stroke-width="1.0"/>
<line x1="133.50" y1="603.50" x2="133.50" y2="606.80" stroke="#231f20" stroke-width="1.0"/>
<line x1="160.50" y1="603.50" x2="160.50" y2="606.80" stroke="#231f20" stroke-width="1.0"/>
<line x1="186.50" y1="603.50" x2="186.50" y2="606.80" stroke="#231f20" stroke-width="1.0"/>
<rect x="59.60" y="596.50" width="7.4" height="7.50" fill="#48668f"/>
<rect x="67.00" y="582.12" width="7.4" height="21.88" fill="#a83446"/>
<rect x="86.10" y="570.25" width="7.4" height="33.75" fill="#48668f"/>
<rect x="93.50" y="526.50" width="7.4" height="77.50" fill="#a83446"/>
<rect x="112.60" y="562.75" width="7.4" height="41.25" fill="#48668f"/>
<rect x="120.00" y="513.38" width="7.4" height="90.62" fill="#a83446"/>
<rect x="138.90" y="534.50" width="7.4" height="69.50" fill="#48668f"/>
<rect x="146.30" y="505.25" width="7.4" height="98.75" fill="#a83446"/>
<rect x="165.20" y="532.75" width="7.4" height="71.25" fill="#48668f"/>
<rect x="172.60" y="517.00" width="7.4" height="87.00" fill="#a83446"/>
<line x1="63.50" y1="593.00" x2="63.50" y2="601.20" stroke="#222" stroke-width="0.9"/>
<line x1="61.70" y1="593.50" x2="65.30" y2="593.50" stroke="#222" stroke-width="0.9"/>
<line x1="61.70" y1="601.50" x2="65.30" y2="601.50" stroke="#222" stroke-width="0.9"/>
<line x1="70.50" y1="573.30" x2="70.50" y2="590.80" stroke="#222" stroke-width="0.9"/>
<line x1="68.70" y1="573.50" x2="72.30" y2="573.50" stroke="#222" stroke-width="0.9"/>
<line x1="68.70" y1="590.50" x2="72.30" y2="590.50" stroke="#222" stroke-width="0.9"/>
<line x1="89.50" y1="560.50" x2="89.50" y2="580.00" stroke="#222" stroke-width="0.9"/>
<line x1="87.70" y1="560.50" x2="91.30" y2="560.50" stroke="#222" stroke-width="0.9"/>
<line x1="87.70" y1="580.50" x2="91.30" y2="580.50" stroke="#222" stroke-width="0.9"/>
<line x1="97.50" y1="511.80" x2="97.50" y2="540.50" stroke="#222" stroke-width="0.9"/>
<line x1="95.70" y1="511.50" x2="99.30" y2="511.50" stroke="#222" stroke-width="0.9"/>
<line x1="95.70" y1="540.50" x2="99.30" y2="540.50" stroke="#222" stroke-width="0.9"/>
<line x1="116.50" y1="552.50" x2="116.50" y2="573.00" stroke="#222" stroke-width="0.9"/>
<line x1="114.70" y1="552.50" x2="118.30" y2="552.50" stroke="#222" stroke-width="0.9"/>
<line x1="114.70" y1="573.50" x2="118.30" y2="573.50" stroke="#222" stroke-width="0.9"/>
<line x1="123.50" y1="503.80" x2="123.50" y2="524.30" stroke="#222" stroke-width="0.9"/>
<line x1="121.70" y1="503.50" x2="125.30" y2="503.50" stroke="#222" stroke-width="0.9"/>
<line x1="121.70" y1="524.50" x2="125.30" y2="524.50" stroke="#222" stroke-width="0.9"/>
<line x1="142.50" y1="524.50" x2="142.50" y2="544.50" stroke="#222" stroke-width="0.9"/>
<line x1="140.70" y1="524.50" x2="144.30" y2="524.50" stroke="#222" stroke-width="0.9"/>
<line x1="140.70" y1="544.50" x2="144.30" y2="544.50" stroke="#222" stroke-width="0.9"/>
<line x1="150.50" y1="483.30" x2="150.50" y2="527.50" stroke="#222" stroke-width="0.9"/>
<line x1="148.70" y1="483.50" x2="152.30" y2="483.50" stroke="#222" stroke-width="0.9"/>
<line x1="148.70" y1="527.50" x2="152.30" y2="527.50" stroke="#222" stroke-width="0.9"/>
<line x1="168.50" y1="523.30" x2="168.50" y2="542.50" stroke="#222" stroke-width="0.9"/>
<line x1="166.70" y1="523.50" x2="170.30" y2="523.50" stroke="#222" stroke-width="0.9"/>
<line x1="166.70" y1="542.50" x2="170.30" y2="542.50" stroke="#222" stroke-width="0.9"/>
<line x1="176.50" y1="494.30" x2="176.50" y2="540.00" stroke="#222" stroke-width="0.9"/>
<line x1="174.70" y1="494.50" x2="178.30" y2="494.50" stroke="#222" stroke-width="0.9"/>
<line x1="174.70" y1="540.50" x2="178.30" y2="540.50" stroke="#222" stroke-width="0.9"/>
<line x1="61.30" y1="565.50" x2="75.00" y2="565.50" stroke="#222" stroke-width="1.0"/>
<circle cx="68.15" cy="561.40" r="1.0" fill="#383838"/>
<line x1="84.50" y1="506.50" x2="99.50" y2="506.50" stroke="#222" stroke-width="1.0"/>
<circle cx="90.38" cy="502.70" r="1.0" fill="#383838"/>
<circle cx="93.62" cy="502.70" r="1.0" fill="#383838"/>
<line x1="112.00" y1="499.50" x2="127.00" y2="499.50" stroke="#222" stroke-width="1.0"/>
<circle cx="119.50" cy="495.70" r="1.0" fill="#383838"/>
<text x="67.00" y="617.40" font-size="8" text-anchor="middle">0</text>
<text x="93.80" y="617.40" font-size="8" text-anchor="middle" textLength="8.45" lengthAdjust="spacingAndGlyphs">10</text>
<text x="120.00" y="617.40" font-size="8" text-anchor="middle" textLength="8.45" lengthAdjust="spacingAndGlyphs">30</text>
<text x="146.50" y="617.40" font-size="8" text-anchor="middle" textLength="8.45" lengthAdjust="spacingAndGlyphs">60</text>
<text x="172.70" y="617.40" font-size="8" text-anchor="middle" textLength="12.68" lengthAdjust="spacingAndGlyphs">120</text>
<text x="111.30" y="471.40" font-size="8" textLength="20.70" lengthAdjust="spacingAndGlyphs">pJAK2</text>
<text x="84.80" y="630.90" font-size="9.8" textLength="73.40" lengthAdjust="spacingAndGlyphs">Minutes after TPO</text>
<text x="16.90" y="540.60" font-size="9" text-anchor="middle" textLength="114.00" lengthAdjust="spacingAndGlyphs" transform="rotate(-90 16.90 540.60)">pJAK2 level associated with</text>
<text x="29.30" y="540.60" font-size="9" text-anchor="middle" textLength="66.80" lengthAdjust="spacingAndGlyphs" transform="rotate(-90 29.30 540.60)">cell surface MPL</text>
<line x1="293.50" y1="476.50" x2="293.50" y2="604.20" stroke="#231f20" stroke-width="1.1"/>
<line x1="293.00" y1="603.50" x2="424.00" y2="603.50" stroke="#231f20" stroke-width="1.1"/>
<line x1="290.50" y1="603.50" x2="293.50" y2="603.50" stroke="#231f20" stroke-width="1.0"/>
<text x="288.30" y="606.90" font-size="8" text-anchor="end">0</text>
<line x1="290.50" y1="591.50" x2="293.50" y2="591.50" stroke="#231f20" stroke-width="1.0"/>
<text x="288.30" y="594.40" font-size="8" text-anchor="end" textLength="8.72" lengthAdjust="spacingAndGlyphs">10</text>
<line x1="290.50" y1="578.50" x2="293.50" y2="578.50" stroke="#231f20" stroke-width="1.0"/>
<text x="288.30" y="581.90" font-size="8" text-anchor="end" textLength="8.72" lengthAdjust="spacingAndGlyphs">20</text>
<line x1="290.50" y1="566.50" x2="293.50" y2="566.50" stroke="#231f20" stroke-width="1.0"/>
<text x="288.30" y="569.40" font-size="8" text-anchor="end" textLength="8.72" lengthAdjust="spacingAndGlyphs">30</text>
<line x1="290.50" y1="553.50" x2="293.50" y2="553.50" stroke="#231f20" stroke-width="1.0"/>
<text x="288.30" y="556.90" font-size="8" text-anchor="end" textLength="8.72" lengthAdjust="spacingAndGlyphs">40</text>
<line x1="290.50" y1="541.50" x2="293.50" y2="541.50" stroke="#231f20" stroke-width="1.0"/>
<text x="288.30" y="544.40" font-size="8" text-anchor="end" textLength="8.72" lengthAdjust="spacingAndGlyphs">50</text>
<line x1="290.50" y1="528.50" x2="293.50" y2="528.50" stroke="#231f20" stroke-width="1.0"/>
<text x="288.30" y="531.90" font-size="8" text-anchor="end" textLength="8.72" lengthAdjust="spacingAndGlyphs">60</text>
<line x1="290.50" y1="516.50" x2="293.50" y2="516.50" stroke="#231f20" stroke-width="1.0"/>
<text x="288.30" y="519.40" font-size="8" text-anchor="end" textLength="8.72" lengthAdjust="spacingAndGlyphs">70</text>
<line x1="290.50" y1="503.50" x2="293.50" y2="503.50" stroke="#231f20" stroke-width="1.0"/>
<text x="288.30" y="506.90" font-size="8" text-anchor="end" textLength="8.72" lengthAdjust="spacingAndGlyphs">80</text>
<line x1="290.50" y1="491.50" x2="293.50" y2="491.50" stroke="#231f20" stroke-width="1.0"/>
<text x="288.30" y="494.40" font-size="8" text-anchor="end" textLength="8.72" lengthAdjust="spacingAndGlyphs">90</text>
<line x1="290.50" y1="478.50" x2="293.50" y2="478.50" stroke="#231f20" stroke-width="1.0"/>
<text x="288.30" y="481.90" font-size="8" text-anchor="end" textLength="13.08" lengthAdjust="spacingAndGlyphs">100</text>
<line x1="293.50" y1="603.50" x2="293.50" y2="606.80" stroke="#231f20" stroke-width="1.0"/>
<line x1="316.50" y1="603.50" x2="316.50" y2="606.80" stroke="#231f20" stroke-width="1.0"/>
<line x1="343.50" y1="603.50" x2="343.50" y2="606.80" stroke="#231f20" stroke-width="1.0"/>
<line x1="368.50" y1="603.50" x2="368.50" y2="606.80" stroke="#231f20" stroke-width="1.0"/>
<line x1="393.50" y1="603.50" x2="393.50" y2="606.80" stroke="#231f20" stroke-width="1.0"/>
<line x1="418.50" y1="603.50" x2="418.50" y2="606.80" stroke="#231f20" stroke-width="1.0"/>
<rect x="298.90" y="587.12" width="7.4" height="16.88" fill="#48668f"/>
<rect x="306.30" y="555.88" width="7.4" height="48.12" fill="#a83446"/>
<rect x="324.60" y="572.12" width="7.4" height="31.88" fill="#48668f"/>
<rect x="332.00" y="541.50" width="7.4" height="62.50" fill="#a83446"/>
<rect x="350.10" y="555.25" width="7.4" height="48.75" fill="#48668f"/>
<rect x="357.50" y="517.12" width="7.4" height="86.88" fill="#a83446"/>
<rect x="375.60" y="550.25" width="7.4" height="53.75" fill="#48668f"/>
<rect x="383.00" y="530.88" width="7.4" height="73.12" fill="#a83446"/>
<rect x="401.40" y="554.00" width="7.4" height="50.00" fill="#48668f"/>
<rect x="408.80" y="520.25" width="7.4" height="83.75" fill="#a83446"/>
<line x1="302.50" y1="580.00" x2="302.50" y2="590.00" stroke="#222" stroke-width="0.9"/>
<line x1="300.70" y1="580.50" x2="304.30" y2="580.50" stroke="#222" stroke-width="0.9"/>
<line x1="300.70" y1="590.50" x2="304.30" y2="590.50" stroke="#222" stroke-width="0.9"/>
<line x1="310.50" y1="542.00" x2="310.50" y2="569.30" stroke="#222" stroke-width="0.9"/>
<line x1="308.70" y1="542.50" x2="312.30" y2="542.50" stroke="#222" stroke-width="0.9"/>
<line x1="308.70" y1="569.50" x2="312.30" y2="569.50" stroke="#222" stroke-width="0.9"/>
<line x1="328.50" y1="563.30" x2="328.50" y2="580.50" stroke="#222" stroke-width="0.9"/>
<line x1="326.70" y1="563.50" x2="330.30" y2="563.50" stroke="#222" stroke-width="0.9"/>
<line x1="326.70" y1="580.50" x2="330.30" y2="580.50" stroke="#222" stroke-width="0.9"/>
<line x1="335.50" y1="534.30" x2="335.50" y2="548.80" stroke="#222" stroke-width="0.9"/>
<line x1="333.70" y1="534.50" x2="337.30" y2="534.50" stroke="#222" stroke-width="0.9"/>
<line x1="333.70" y1="548.50" x2="337.30" y2="548.50" stroke="#222" stroke-width="0.9"/>
<line x1="353.50" y1="550.00" x2="353.50" y2="560.00" stroke="#222" stroke-width="0.9"/>
<line x1="351.70" y1="550.50" x2="355.30" y2="550.50" stroke="#222" stroke-width="0.9"/>
<line x1="351.70" y1="560.50" x2="355.30" y2="560.50" stroke="#222" stroke-width="0.9"/>
<line x1="361.50" y1="508.80" x2="361.50" y2="525.80" stroke="#222" stroke-width="0.9"/>
<line x1="359.70" y1="508.50" x2="363.30" y2="508.50" stroke="#222" stroke-width="0.9"/>
<line x1="359.70" y1="525.50" x2="363.30" y2="525.50" stroke="#222" stroke-width="0.9"/>
<line x1="379.50" y1="537.50" x2="379.50" y2="562.50" stroke="#222" stroke-width="0.9"/>
<line x1="377.70" y1="537.50" x2="381.30" y2="537.50" stroke="#222" stroke-width="0.9"/>
<line x1="377.70" y1="562.50" x2="381.30" y2="562.50" stroke="#222" stroke-width="0.9"/>
<line x1="386.50" y1="510.80" x2="386.50" y2="551.30" stroke="#222" stroke-width="0.9"/>
<line x1="384.70" y1="510.50" x2="388.30" y2="510.50" stroke="#222" stroke-width="0.9"/>
<line x1="384.70" y1="551.50" x2="388.30" y2="551.50" stroke="#222" stroke-width="0.9"/>
<line x1="405.50" y1="538.80" x2="405.50" y2="569.50" stroke="#222" stroke-width="0.9"/>
<line x1="403.70" y1="538.50" x2="407.30" y2="538.50" stroke="#222" stroke-width="0.9"/>
<line x1="403.70" y1="569.50" x2="407.30" y2="569.50" stroke="#222" stroke-width="0.9"/>
<line x1="412.50" y1="491.30" x2="412.50" y2="548.80" stroke="#222" stroke-width="0.9"/>
<line x1="410.70" y1="491.50" x2="414.30" y2="491.50" stroke="#222" stroke-width="0.9"/>
<line x1="410.70" y1="548.50" x2="414.30" y2="548.50" stroke="#222" stroke-width="0.9"/>
<line x1="299.30" y1="538.50" x2="313.00" y2="538.50" stroke="#222" stroke-width="1.0"/>
<circle cx="306.15" cy="534.70" r="1.0" fill="#383838"/>
<line x1="326.30" y1="529.50" x2="339.50" y2="529.50" stroke="#222" stroke-width="1.0"/>
<circle cx="331.27" cy="525.90" r="1.0" fill="#383838"/>
<circle cx="334.52" cy="525.90" r="1.0" fill="#383838"/>
<line x1="349.50" y1="503.50" x2="363.80" y2="503.50" stroke="#222" stroke-width="1.0"/>
<circle cx="355.02" cy="499.40" r="1.0" fill="#383838"/>
<circle cx="358.27" cy="499.40" r="1.0" fill="#383838"/>
<text x="305.40" y="617.40" font-size="8" text-anchor="middle">0</text>
<text x="329.60" y="617.40" font-size="8" text-anchor="middle" textLength="8.45" lengthAdjust="spacingAndGlyphs">10</text>
<text x="355.40" y="617.40" font-size="8" text-anchor="middle" textLength="8.45" lengthAdjust="spacingAndGlyphs">30</text>
<text x="380.40" y="617.40" font-size="8" text-anchor="middle" textLength="8.45" lengthAdjust="spacingAndGlyphs">60</text>
<text x="406.20" y="617.40" font-size="8" text-anchor="middle" textLength="12.68" lengthAdjust="spacingAndGlyphs">120</text>
<text x="351.30" y="471.40" font-size="8" textLength="15.00" lengthAdjust="spacingAndGlyphs">JAK2</text>
<text x="322.10" y="630.90" font-size="9.8" textLength="73.60" lengthAdjust="spacingAndGlyphs">Minutes after TPO</text>
<text x="255.30" y="539.70" font-size="9" text-anchor="middle" textLength="109.00" lengthAdjust="spacingAndGlyphs" transform="rotate(-90 255.30 539.70)">JAK2 level associated with</text>
<text x="268.50" y="539.70" font-size="9" text-anchor="middle" textLength="66.80" lengthAdjust="spacingAndGlyphs" transform="rotate(-90 268.50 539.70)">cell surface MPL</text>
<rect x="198.1" y="531" width="6" height="6" fill="#48668f"/>
<rect x="198.1" y="542.8" width="6" height="6" fill="#a83446"/>
<text x="206.90" y="536.50" font-size="8.3" textLength="20.00" lengthAdjust="spacingAndGlyphs">shLuc</text>
<text x="206.90" y="548.60" font-size="8.3" textLength="22.30" lengthAdjust="spacingAndGlyphs">shBrcc</text>
<rect x="0" y="0" width="1.8" height="641" fill="#4a4a4a"/>
<rect x="0" y="0" width="520" height="1.5" fill="#4a4a4a"/>
<rect x="518.2" y="0" width="1.8" height="641" fill="#4a4a4a"/>
<rect x="0" y="638.8" width="520" height="2.2" fill="#4a4a4a"/>
</svg>
</body></html>
